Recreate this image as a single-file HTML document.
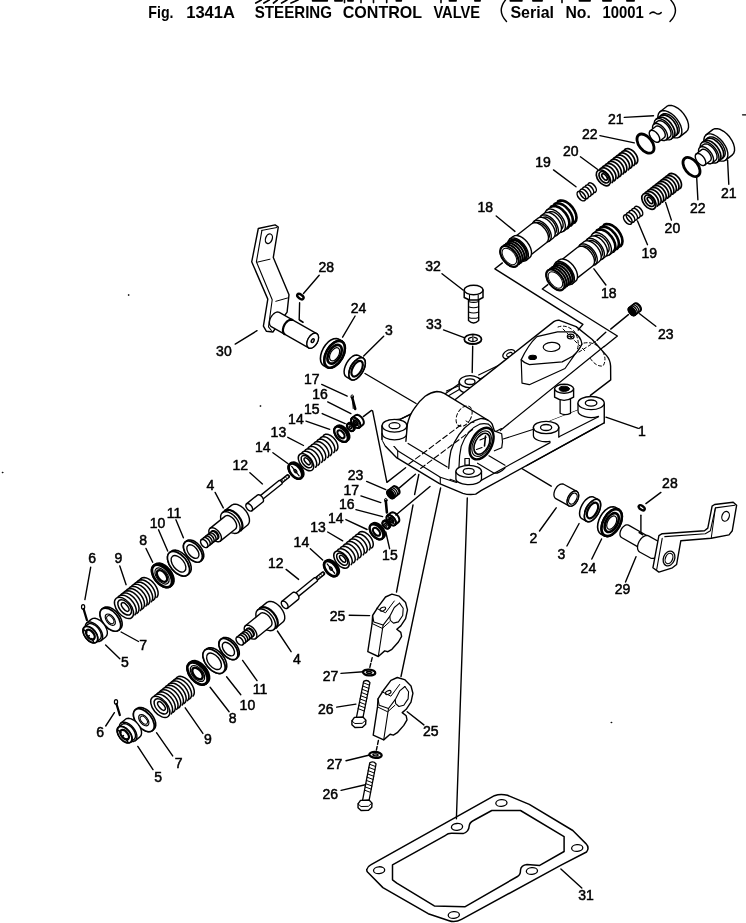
<!DOCTYPE html>
<html><head><meta charset="utf-8"><title>Fig. 1341A STEERING CONTROL VALVE</title>
<style>
html,body{margin:0;padding:0;background:#fff;}
body{width:746px;height:923px;overflow:hidden;font-family:"Liberation Sans",sans-serif;}
svg{will-change:transform;display:block;position:absolute;left:0;top:0}
svg text{font-family:"Liberation Sans",sans-serif}

</style></head><body>
<svg width="746" height="923" viewBox="0 0 746 923">
<g fill="none" stroke="#000" stroke-width="1.4" stroke-linecap="round" stroke-linejoin="round">
<path d="M650 13.6Q652.5 11 655.5 13Q658.5 15.2 661.2 12.6" stroke-width="1.5"/>
<path d="M505.5 0Q496.5 11 506.5 21.5" stroke-width="1.4"/>
<path d="M670.8 0Q680.5 11 670 21.5" stroke-width="1.4"/>
<path d="M261.3 0L255.8 3" stroke-width="1.7"/>
<path d="M269.3 0L263.9 3" stroke-width="1.7"/>
<path d="M277.3 0L273.5 3" stroke-width="1.7"/>
<path d="M287 0L281.6 3" stroke-width="1.7"/>
<path d="M298 0L291 3" stroke-width="1.7"/>
<path d="M312.7 0.8L327.2 0.8" stroke-width="1.9"/>
<path d="M335 0.8L342 0.8" stroke-width="1.9"/>
<path d="M348 0.8L353 0.8" stroke-width="1.9"/>
<path d="M396.4 0.8L401.2 0.8" stroke-width="1.9"/>
<path d="M449.5 0.8L456 0.8" stroke-width="1.9"/>
<path d="M475 0.8L480 0.8" stroke-width="1.9"/>
<path d="M510.4 0.8L521.8 0.8" stroke-width="1.9"/>
<path d="M533 0.8L542 0.8" stroke-width="1.9"/>
<path d="M579.5 0.8L590 0.8" stroke-width="1.9"/>
<path d="M603 0.8L611 0.8" stroke-width="1.9"/>
<path d="M627 0.8L634 0.8" stroke-width="1.9"/>
<path d="M344.5 0L344.5 2.6" stroke-width="1.6"/>
<path d="M361 0L361 2.6" stroke-width="1.6"/>
<path d="M373.5 0L373.5 2.6" stroke-width="1.6"/>
<path d="M386.7 0L386.7 2.6" stroke-width="1.6"/>
<path d="M441 0L441 2.6" stroke-width="1.6"/>
<path d="M562 0L562 2.6" stroke-width="1.6"/>
<path d="M624.3 117.4L653.5 115.7"/>
<path d="M599.9 135.6L634.3 142.9"/>
<path d="M580.4 156.8L597.4 169.3"/>
<path d="M553.5 169.9L576 186.8"/>
<path d="M496.2 216L514.9 231.4"/>
<path d="M727.6 160.3L728.8 184.3"/>
<path d="M696.7 177.8L697.9 199.7"/>
<path d="M637.5 221L647.5 244.7"/>
<path d="M665.6 202.4L671.4 220.1"/>
<path d="M593.9 268.8L605.9 285"/>
<path d="M321.7 384.4L347.2 396.1"/>
<path d="M327.7 401.9L350.9 413.6"/>
<path d="M322.2 413.6L345.2 423.6"/>
<path d="M306 421.1L329.7 429.3"/>
<path d="M287.8 437.3L303.5 445.5"/>
<path d="M272.9 452.7L287.8 463.5"/>
<path d="M249.9 472.7L262.4 483.9"/>
<path d="M366.6 481.4L385.8 489.6"/>
<path d="M360.9 495.9L380.8 502.6"/>
<path d="M355.9 509.6L382.6 516.6"/>
<path d="M345.9 519.6L367.1 529.5"/>
<path d="M327.7 532L342.7 540.8"/>
<path d="M310.3 548.7L322.7 560"/>
<path d="M385.8 532L389.6 548.7"/>
<path d="M286.1 569.4L298.6 579.4"/>
<path d="M215.1 492.4L223.3 507.9"/>
<path d="M175.9 519.8L183.4 537.8"/>
<path d="M158.5 529.8L167.7 551"/>
<path d="M146 548.5L152.7 562.2"/>
<path d="M119.8 566L126.1 584.7"/>
<path d="M90.7 567.2L84.9 599.6"/>
<path d="M121.1 632L138.5 641.5"/>
<path d="M105.6 645L119.8 658.7"/>
<path d="M242.6 660.4L257 680.6"/>
<path d="M226.6 676.8L240.8 694.8"/>
<path d="M210.1 687.3L229.1 711.7"/>
<path d="M185.2 707.8L202.9 733.4"/>
<path d="M156.5 732.7L172.7 755.9"/>
<path d="M137.8 746.4L153 769.6"/>
<path d="M105.7 726L114.4 712.7"/>
<path d="M349.2 615.2L369.6 615.6"/>
<path d="M277.4 631L291.1 651.7"/>
<path d="M341 673.4L363.4 671.7"/>
<path d="M336.7 707.1L355.9 704.1"/>
<path d="M346 760.7L369.6 755"/>
<path d="M341.1 790.4L365.3 784.7"/>
<path d="M407.2 711.7L423.9 724.9"/>
<path d="M556.2 507.8L539.5 531"/>
<path d="M579.1 523.5L566.9 546"/>
<path d="M601.6 539L591.8 559"/>
<path d="M636 556.7L625.5 582.1"/>
<path d="M660.9 492.4L645.9 503.6"/>
<path d="M560.9 868.9L581.8 888"/>
<path d="M319.2 275.3L303.5 293.5"/>
<path d="M355.1 316L342.6 337.2"/>
<path d="M605.9 417.2L638.3 428.4"/>
<path d="M639.6 313.7L655.8 326.2"/>
<path d="M443.5 329.9L463.5 337.4"/>
<path d="M383.7 336.2L363.7 356.1"/>
<path d="M442 273.7L463 290"/>
<path d="M235.2 344.1L257 330.7"/>
<path d="M686.41 131.67L687.87 129.84L688.56 127.27L688.43 124.15L687.5 120.67L685.81 117.09L683.5 113.64L680.71 110.57L677.64 108.07L674.5 106.32L671.5 105.43L668.84 105.48L666.71 106.45L660.02 111.69L658.56 113.52L657.87 116.08L658 119.21L658.94 122.68L660.62 126.26L662.93 129.71L665.72 132.79L668.79 135.29L671.93 137.04L674.93 137.92L677.59 137.88L679.72 136.9Z" fill="#fff"/>
<path d="M660.02 111.69L662.15 110.71L664.8 110.67L667.8 111.55L670.95 113.3L674.01 115.8L676.8 118.88L679.11 122.32L680.8 125.91L681.74 129.38L681.86 132.5L681.18 135.07L679.72 136.9"/>
<path d="M677.56 134.14L678.7 132.71L679.24 130.71L679.14 128.27L678.41 125.55L677.09 122.76L675.28 120.06L673.11 117.66L670.71 115.7L668.26 114.34L665.91 113.65L663.83 113.68L662.17 114.44L655.87 119.37L654.73 120.8L654.19 122.81L654.29 125.25L655.02 127.96L656.34 130.76L658.14 133.45L660.32 135.86L662.72 137.81L665.17 139.18L667.52 139.87L669.59 139.83L671.26 139.07Z" fill="#fff"/>
<path d="M655.87 119.37L657.53 118.61L659.61 118.57L661.95 119.26L664.41 120.63L666.8 122.58L668.98 124.99L670.79 127.68L672.1 130.48L672.83 133.19L672.94 135.63L672.4 137.64L671.26 139.07"/>
<path d="M669.72 137.1L670.63 135.96L671.06 134.35L670.98 132.4L670.39 130.23L669.34 127.99L667.9 125.83L666.16 123.91L664.24 122.35L662.27 121.25L660.4 120.7L658.74 120.73L657.41 121.34L653.86 124.11L652.95 125.26L652.52 126.86L652.6 128.81L653.18 130.98L654.24 133.22L655.68 135.38L657.42 137.3L659.34 138.86L661.3 139.96L663.18 140.51L664.84 140.48L666.17 139.87Z" fill="#fff"/>
<path d="M653.86 124.11L655.19 123.5L656.85 123.47L658.73 124.02L660.69 125.12L662.61 126.68L664.35 128.6L665.8 130.76L666.85 133L667.43 135.17L667.51 137.12L667.08 138.73L666.17 139.87"/>
<path d="M664.33 137.51L664.96 136.71L665.27 135.58L665.21 134.21L664.8 132.7L664.06 131.13L663.05 129.62L661.83 128.27L660.49 127.18L659.11 126.41L657.8 126.03L656.64 126.05L655.71 126.47L650.19 130.78L649.55 131.59L649.25 132.71L649.31 134.08L649.72 135.59L650.45 137.16L651.47 138.67L652.68 140.02L654.03 141.11L655.4 141.88L656.72 142.26L657.88 142.24L658.81 141.82Z" fill="#fff"/>
<path d="M650.19 130.78L651.12 130.36L652.28 130.34L653.6 130.72L654.97 131.49L656.32 132.58L657.53 133.93L658.55 135.44L659.28 137.01L659.69 138.52L659.75 139.89L659.45 141.01L658.81 141.82"/>
<path d="M660.79 115.53L662.86 114.83L665.44 115.12L668.28 116.39L671.13 118.51L673.71 121.29L675.78 124.47L677.15 127.75L677.7 130.81L677.36 133.39L676.17 135.22" stroke-width="1.7"/>
<path d="M658.03 117.69L660.1 116.98L662.68 117.28L665.52 118.54L668.37 120.67L670.95 123.45L673.02 126.62L674.4 129.9L674.94 132.97L674.6 135.54L673.41 137.38" stroke-width="1.7"/>
<path d="M732.41 154.87L733.87 153.04L734.56 150.47L734.43 147.35L733.5 143.87L731.81 140.29L729.5 136.84L726.71 133.77L723.64 131.27L720.5 129.52L717.5 128.63L714.84 128.68L712.71 129.65L706.02 134.89L704.56 136.72L703.87 139.28L704 142.41L704.94 145.88L706.62 149.46L708.93 152.91L711.72 155.99L714.79 158.49L717.93 160.24L720.93 161.12L723.59 161.08L725.72 160.1Z" fill="#fff"/>
<path d="M706.02 134.89L708.15 133.91L710.8 133.87L713.8 134.75L716.95 136.5L720.01 139L722.8 142.08L725.11 145.52L726.8 149.11L727.74 152.58L727.86 155.7L727.18 158.27L725.72 160.1"/>
<path d="M723.56 157.34L724.7 155.91L725.24 153.91L725.14 151.47L724.41 148.75L723.09 145.96L721.28 143.26L719.11 140.86L716.71 138.9L714.26 137.54L711.91 136.85L709.83 136.88L708.17 137.64L701.87 142.57L700.73 144L700.19 146.01L700.29 148.45L701.02 151.16L702.34 153.96L704.14 156.65L706.32 159.06L708.72 161.01L711.17 162.38L713.52 163.07L715.59 163.03L717.26 162.27Z" fill="#fff"/>
<path d="M701.87 142.57L703.53 141.81L705.61 141.77L707.95 142.46L710.41 143.83L712.8 145.78L714.98 148.19L716.79 150.88L718.1 153.68L718.83 156.39L718.94 158.83L718.4 160.84L717.26 162.27"/>
<path d="M715.72 160.3L716.63 159.16L717.06 157.55L716.98 155.6L716.39 153.43L715.34 151.19L713.9 149.03L712.16 147.11L710.24 145.55L708.27 144.45L706.4 143.9L704.74 143.93L703.41 144.54L699.86 147.31L698.95 148.46L698.52 150.06L698.6 152.01L699.18 154.18L700.24 156.42L701.68 158.58L703.42 160.5L705.34 162.06L707.3 163.16L709.18 163.71L710.84 163.68L712.17 163.07Z" fill="#fff"/>
<path d="M699.86 147.31L701.19 146.7L702.85 146.67L704.73 147.22L706.69 148.32L708.61 149.88L710.35 151.8L711.8 153.96L712.85 156.2L713.43 158.37L713.51 160.32L713.08 161.93L712.17 163.07"/>
<path d="M710.33 160.71L710.96 159.91L711.27 158.78L711.21 157.41L710.8 155.9L710.06 154.33L709.05 152.82L707.83 151.47L706.49 150.38L705.11 149.61L703.8 149.23L702.64 149.25L701.71 149.67L696.19 153.98L695.55 154.79L695.25 155.91L695.31 157.28L695.72 158.79L696.45 160.36L697.47 161.87L698.68 163.22L700.03 164.31L701.4 165.08L702.72 165.46L703.88 165.44L704.81 165.02Z" fill="#fff"/>
<path d="M696.19 153.98L697.12 153.56L698.28 153.54L699.6 153.92L700.97 154.69L702.32 155.78L703.53 157.13L704.55 158.64L705.28 160.21L705.69 161.72L705.75 163.09L705.45 164.21L704.81 165.02"/>
<path d="M706.79 138.73L708.86 138.03L711.44 138.32L714.28 139.59L717.13 141.71L719.71 144.49L721.78 147.67L723.15 150.95L723.7 154.01L723.36 156.59L722.17 158.42" stroke-width="1.7"/>
<path d="M704.03 140.89L706.1 140.18L708.68 140.48L711.52 141.74L714.37 143.87L716.95 146.65L719.02 149.82L720.4 153.1L720.94 156.17L720.6 158.74L719.41 160.58" stroke-width="1.7"/>
<ellipse cx="645.5" cy="143.6" rx="6.6" ry="11" fill="none" stroke-width="2.8" transform="rotate(-38 645.5 143.6)"/>
<ellipse cx="691.5" cy="167" rx="6.6" ry="11" fill="none" stroke-width="2.8" transform="rotate(-38 691.5 167)"/>
<path d="M636.19 163.73L637.15 162.59L637.66 161.03L637.69 159.17L637.24 157.14L636.33 155.06L635.03 153.09L633.43 151.35L631.64 149.97L629.77 149.03L627.96 148.61L626.33 148.73L624.98 149.39L597.8 170.63L596.84 171.77L596.33 173.33L596.29 175.19L596.75 177.22L597.66 179.3L598.95 181.27L600.56 183.01L602.35 184.39L604.22 185.33L606.03 185.75L607.66 185.63L609 184.97Z" fill="#fff" stroke="none"/>
<path d="M624.07 150.44L624.99 149.38L626.24 148.76L627.75 148.6L629.43 148.92L631.18 149.7L632.9 150.88L634.47 152.41L635.82 154.19L636.85 156.11L637.5 158.06L637.74 159.92L637.55 161.58L636.94 162.93L635.95 163.9" stroke-width="1.7"/>
<path d="M621.36 152.57L622.23 151.54L623.41 150.92L624.84 150.72L626.43 150.96L628.11 151.63L629.77 152.68L631.33 154.07L632.69 155.72L633.79 157.53L634.56 159.4L634.97 161.23L634.97 162.92L634.59 164.38L633.84 165.52" stroke-width="1.7"/>
<path d="M618.64 154.69L619.55 153.63L620.8 153.01L622.31 152.85L624 153.17L625.75 153.94L627.46 155.13L629.04 156.66L630.38 158.44L631.41 160.36L632.06 162.31L632.3 164.17L632.11 165.82L631.5 167.18L630.51 168.15" stroke-width="1.7"/>
<path d="M615.92 156.81L616.79 155.79L617.97 155.16L619.4 154.96L621 155.21L622.67 155.87L624.33 156.93L625.89 158.32L627.26 159.97L628.36 161.78L629.13 163.65L629.53 165.48L629.54 167.17L629.15 168.63L628.4 169.77" stroke-width="1.7"/>
<path d="M613.2 158.94L614.11 157.88L615.37 157.25L616.88 157.09L618.56 157.41L620.31 158.19L622.02 159.38L623.6 160.91L624.94 162.69L625.97 164.61L626.63 166.56L626.86 168.42L626.67 170.07L626.06 171.43L625.07 172.4" stroke-width="1.7"/>
<path d="M610.48 161.06L611.35 160.04L612.53 159.41L613.96 159.21L615.56 159.45L617.23 160.12L618.9 161.18L620.45 162.57L621.82 164.21L622.92 166.02L623.69 167.9L624.09 169.73L624.1 171.42L623.72 172.88L622.96 174.02" stroke-width="1.7"/>
<path d="M607.76 163.19L608.68 162.13L609.93 161.5L611.44 161.34L613.12 161.66L614.87 162.44L616.59 163.63L618.16 165.16L619.51 166.94L620.53 168.86L621.19 170.81L621.43 172.66L621.24 174.32L620.63 175.67L619.64 176.65" stroke-width="1.7"/>
<path d="M605.04 165.31L605.91 164.29L607.1 163.66L608.53 163.46L610.12 163.7L611.8 164.37L613.46 165.43L615.02 166.82L616.38 168.46L617.48 170.27L618.25 172.14L618.65 173.98L618.66 175.67L618.28 177.13L617.52 178.27" stroke-width="1.7"/>
<path d="M602.33 167.43L603.24 166.38L604.49 165.75L606 165.59L607.68 165.91L609.43 166.69L611.15 167.88L612.73 169.41L614.07 171.19L615.1 173.11L615.75 175.05L615.99 176.91L615.8 178.57L615.19 179.92L614.2 180.89" stroke-width="1.7"/>
<path d="M599.61 169.56L600.48 168.54L601.66 167.91L603.09 167.71L604.68 167.95L606.36 168.62L608.02 169.68L609.58 171.07L610.94 172.71L612.04 174.52L612.82 176.39L613.22 178.22L613.23 179.92L612.84 181.37L612.09 182.52" stroke-width="1.7"/>
<ellipse cx="603.4" cy="177.8" rx="5.64" ry="9.1" fill="#fff" stroke-width="1.7" transform="rotate(-38 603.4 177.8)"/>
<ellipse cx="604.11" cy="177.25" rx="4.06" ry="6.55" fill="none" stroke-width="1.7" transform="rotate(-38 604.11 177.25)"/>
<ellipse cx="604.58" cy="176.88" rx="1.9" ry="3.82" fill="none" stroke-width="1.7" transform="rotate(-38 604.58 176.88)"/>
<path d="M679.96 188.59L680.92 187.44L681.43 185.89L681.46 184.03L681 181.99L680.1 179.91L678.8 177.94L677.2 176.2L675.4 174.82L673.53 173.89L671.72 173.47L670.09 173.59L668.75 174.24L643.3 194.13L642.34 195.27L641.83 196.83L641.79 198.69L642.25 200.72L643.16 202.8L644.45 204.77L646.06 206.51L647.85 207.89L649.72 208.83L651.53 209.25L653.16 209.13L654.5 208.47Z" fill="#fff" stroke="none"/>
<path d="M667.84 175.3L668.76 174.24L670.01 173.61L671.52 173.45L673.2 173.77L674.95 174.55L676.67 175.74L678.24 177.27L679.58 179.05L680.61 180.97L681.27 182.92L681.5 184.77L681.31 186.43L680.7 187.78L679.71 188.76" stroke-width="1.7"/>
<path d="M665.3 177.29L666.17 176.26L667.35 175.63L668.78 175.44L670.37 175.68L672.05 176.35L673.71 177.4L675.27 178.79L676.63 180.44L677.73 182.25L678.5 184.12L678.91 185.95L678.91 187.64L678.53 189.1L677.78 190.24" stroke-width="1.7"/>
<path d="M662.75 179.27L663.67 178.22L664.92 177.59L666.43 177.43L668.11 177.75L669.86 178.53L671.57 179.72L673.15 181.25L674.49 183.03L675.52 184.95L676.18 186.89L676.41 188.75L676.22 190.41L675.61 191.76L674.62 192.73" stroke-width="1.7"/>
<path d="M660.21 181.26L661.08 180.24L662.26 179.61L663.69 179.41L665.28 179.65L666.96 180.32L668.62 181.38L670.18 182.77L671.54 184.42L672.64 186.22L673.41 188.1L673.81 189.93L673.82 191.62L673.44 193.08L672.69 194.22" stroke-width="1.7"/>
<path d="M657.66 183.25L658.57 182.19L659.83 181.57L661.34 181.41L663.02 181.73L664.77 182.5L666.48 183.69L668.06 185.22L669.4 187L670.43 188.92L671.08 190.87L671.32 192.73L671.13 194.38L670.52 195.74L669.53 196.71" stroke-width="1.7"/>
<path d="M655.11 185.24L655.99 184.22L657.17 183.59L658.6 183.39L660.19 183.63L661.87 184.3L663.53 185.36L665.09 186.75L666.45 188.39L667.55 190.2L668.32 192.07L668.72 193.91L668.73 195.6L668.35 197.06L667.6 198.2" stroke-width="1.7"/>
<path d="M652.57 187.23L653.48 186.17L654.73 185.54L656.25 185.38L657.93 185.7L659.68 186.48L661.39 187.67L662.97 189.2L664.31 190.98L665.34 192.9L665.99 194.85L666.23 196.71L666.04 198.36L665.43 199.72L664.44 200.69" stroke-width="1.7"/>
<path d="M650.02 189.22L650.89 188.19L652.08 187.57L653.51 187.37L655.1 187.61L656.78 188.28L658.44 189.33L660 190.72L661.36 192.37L662.46 194.18L663.23 196.05L663.63 197.88L663.64 199.57L663.26 201.03L662.5 202.18" stroke-width="1.7"/>
<path d="M647.48 191.21L648.39 190.15L649.64 189.52L651.16 189.36L652.84 189.68L654.59 190.46L656.3 191.65L657.88 193.18L659.22 194.96L660.25 196.88L660.9 198.83L661.14 200.68L660.95 202.34L660.34 203.69L659.35 204.67" stroke-width="1.7"/>
<path d="M644.93 193.19L645.8 192.17L646.99 191.54L648.42 191.34L650.01 191.59L651.69 192.25L653.35 193.31L654.91 194.7L656.27 196.35L657.37 198.15L658.14 200.03L658.54 201.86L658.55 203.55L658.17 205.01L657.41 206.15" stroke-width="1.7"/>
<ellipse cx="648.9" cy="201.3" rx="5.64" ry="9.1" fill="#fff" stroke-width="1.7" transform="rotate(-38 648.9 201.3)"/>
<ellipse cx="649.61" cy="200.75" rx="4.06" ry="6.55" fill="none" stroke-width="1.7" transform="rotate(-38 649.61 200.75)"/>
<ellipse cx="650.08" cy="200.38" rx="1.9" ry="3.82" fill="none" stroke-width="1.7" transform="rotate(-38 650.08 200.38)"/>
<ellipse cx="592.04" cy="187.69" rx="3.25" ry="5.6" fill="#fff" stroke-width="1.5" transform="rotate(-38 592.04 187.69)"/>
<ellipse cx="589.38" cy="189.77" rx="3.25" ry="5.6" fill="#fff" stroke-width="1.5" transform="rotate(-38 589.38 189.77)"/>
<ellipse cx="586.72" cy="191.84" rx="3.25" ry="5.6" fill="#fff" stroke-width="1.5" transform="rotate(-38 586.72 191.84)"/>
<ellipse cx="584.06" cy="193.92" rx="3.25" ry="5.6" fill="#fff" stroke-width="1.5" transform="rotate(-38 584.06 193.92)"/>
<ellipse cx="581.4" cy="196" rx="3.25" ry="5.6" fill="none" stroke-width="1.5" transform="rotate(-38 581.4 196)"/>
<ellipse cx="638.44" cy="211.19" rx="3.25" ry="5.6" fill="#fff" stroke-width="1.5" transform="rotate(-38 638.44 211.19)"/>
<ellipse cx="635.78" cy="213.27" rx="3.25" ry="5.6" fill="#fff" stroke-width="1.5" transform="rotate(-38 635.78 213.27)"/>
<ellipse cx="633.12" cy="215.34" rx="3.25" ry="5.6" fill="#fff" stroke-width="1.5" transform="rotate(-38 633.12 215.34)"/>
<ellipse cx="630.46" cy="217.42" rx="3.25" ry="5.6" fill="#fff" stroke-width="1.5" transform="rotate(-38 630.46 217.42)"/>
<ellipse cx="627.8" cy="219.5" rx="3.25" ry="5.6" fill="none" stroke-width="1.5" transform="rotate(-38 627.8 219.5)"/>
<path d="M574.45 222.71L575.76 221.1L576.42 218.87L576.38 216.19L575.64 213.22L574.25 210.17L572.31 207.25L569.95 204.66L567.32 202.58L564.62 201.14L562.02 200.45L559.71 200.55L557.83 201.43L546.79 210.05L545.48 211.66L544.82 213.89L544.86 216.58L545.61 219.55L546.99 222.59L548.93 225.51L551.3 228.1L553.92 230.19L556.62 231.62L559.22 232.31L561.54 232.21L563.42 231.33Z" fill="#fff"/>
<path d="M546.79 210.05L548.67 209.17L550.99 209.07L553.59 209.76L556.29 211.2L558.91 213.28L561.27 215.87L563.22 218.79L564.6 221.84L565.34 224.81L565.39 227.49L564.73 229.72L563.42 231.33"/>
<path d="M561.57 228.97L562.59 227.71L563.1 225.98L563.07 223.89L562.49 221.58L561.41 219.21L559.9 216.94L558.07 214.93L556.03 213.31L553.93 212.19L551.91 211.65L550.1 211.73L548.64 212.42L545.49 214.88L544.47 216.13L543.95 217.86L543.99 219.95L544.56 222.26L545.64 224.63L547.15 226.9L548.99 228.92L551.03 230.54L553.13 231.66L555.15 232.19L556.95 232.12L558.42 231.43Z" fill="#fff"/>
<path d="M545.49 214.88L546.95 214.19L548.75 214.11L550.77 214.65L552.88 215.77L554.91 217.39L556.75 219.4L558.26 221.67L559.34 224.04L559.92 226.35L559.95 228.45L559.44 230.18L558.42 231.43"/>
<path d="M559.65 233L560.86 231.51L561.47 229.45L561.43 226.96L560.75 224.21L559.46 221.39L557.67 218.69L555.48 216.29L553.05 214.36L550.55 213.03L548.14 212.39L546 212.48L544.26 213.3L541.1 215.77L539.89 217.26L539.28 219.32L539.32 221.81L540 224.56L541.29 227.38L543.09 230.08L545.27 232.48L547.7 234.41L550.2 235.74L552.61 236.38L554.76 236.29L556.5 235.47Z" fill="#fff"/>
<path d="M541.1 215.77L542.85 214.95L544.99 214.85L547.4 215.5L549.9 216.83L552.33 218.76L554.51 221.15L556.31 223.85L557.6 226.68L558.28 229.43L558.32 231.92L557.71 233.98L556.5 235.47"/>
<path d="M554.96 233.5L555.93 232.3L556.42 230.66L556.39 228.66L555.84 226.46L554.81 224.21L553.37 222.05L551.62 220.13L549.68 218.58L547.68 217.52L545.75 217.01L544.04 217.08L542.64 217.74L539.49 220.2L538.52 221.39L538.03 223.04L538.06 225.03L538.61 227.23L539.64 229.49L541.08 231.65L542.83 233.57L544.77 235.11L546.77 236.18L548.7 236.69L550.41 236.62L551.81 235.96Z" fill="#fff"/>
<path d="M539.49 220.2L540.88 219.54L542.6 219.47L544.53 219.98L546.53 221.05L548.47 222.59L550.22 224.51L551.66 226.67L552.68 228.93L553.23 231.13L553.27 233.12L552.78 234.77L551.81 235.96"/>
<path d="M553.34 237.93L554.56 236.44L555.17 234.38L555.13 231.89L554.44 229.14L553.16 226.32L551.36 223.62L549.18 221.22L546.75 219.29L544.25 217.96L541.84 217.32L539.69 217.41L537.95 218.23L534.01 221.31L532.8 222.8L532.19 224.86L532.23 227.35L532.91 230.1L534.2 232.92L536 235.62L538.18 238.02L540.61 239.95L543.11 241.28L545.52 241.92L547.66 241.83L549.4 241.01Z" fill="#fff"/>
<path d="M534.01 221.31L535.75 220.49L537.9 220.4L540.31 221.04L542.81 222.37L545.24 224.3L547.42 226.69L549.22 229.4L550.5 232.22L551.19 234.97L551.23 237.46L550.62 239.52L549.4 241.01"/>
<path d="M547.87 239.04L548.84 237.85L549.33 236.2L549.29 234.2L548.74 232.01L547.72 229.75L546.28 227.59L544.53 225.67L542.59 224.13L540.59 223.06L538.66 222.55L536.94 222.62L535.55 223.28L533.19 225.12L532.21 226.32L531.73 227.97L531.76 229.96L532.31 232.16L533.34 234.41L534.77 236.58L536.52 238.49L538.46 240.04L540.47 241.1L542.39 241.61L544.11 241.54L545.5 240.88Z" fill="#fff"/>
<path d="M533.19 225.12L534.58 224.47L536.3 224.4L538.22 224.91L540.22 225.97L542.17 227.52L543.91 229.43L545.35 231.6L546.38 233.85L546.93 236.05L546.96 238.04L546.47 239.69L545.5 240.88"/>
<path d="M546.73 242.46L547.9 241.03L548.48 239.05L548.45 236.66L547.79 234.02L546.55 231.31L544.83 228.72L542.73 226.42L540.4 224.57L538 223.29L535.69 222.67L533.63 222.76L531.96 223.55L513.83 237.71L512.66 239.14L512.08 241.12L512.12 243.51L512.78 246.15L514.01 248.86L515.74 251.45L517.83 253.75L520.16 255.6L522.57 256.88L524.88 257.5L526.94 257.41L528.61 256.62Z" fill="#fff"/>
<path d="M513.83 237.71L515.5 236.92L517.56 236.83L519.87 237.45L522.28 238.73L524.61 240.58L526.7 242.88L528.43 245.47L529.66 248.18L530.32 250.82L530.36 253.21L529.78 255.19L528.61 256.62"/>
<path d="M529.53 257.8L530.85 256.19L531.5 253.97L531.46 251.28L530.72 248.31L529.33 245.26L527.39 242.34L525.03 239.76L522.41 237.67L519.71 236.23L517.11 235.54L514.79 235.64L512.91 236.53L509.76 238.99L508.44 240.6L507.79 242.83L507.83 245.51L508.57 248.48L509.96 251.53L511.9 254.45L514.26 257.04L516.88 259.12L519.58 260.56L522.18 261.25L524.5 261.15L526.38 260.27Z" fill="#fff"/>
<path d="M509.76 238.99L511.64 238.1L513.96 238L516.55 238.7L519.26 240.13L521.88 242.22L524.24 244.81L526.18 247.72L527.57 250.77L528.31 253.74L528.35 256.43L527.69 258.66L526.38 260.27"/>
<path d="M525.46 259.08L526.62 257.65L527.21 255.67L527.17 253.28L526.51 250.64L525.28 247.94L523.55 245.34L521.45 243.04L519.12 241.19L516.72 239.91L514.41 239.3L512.35 239.38L510.68 240.17L502.01 246.94L500.84 248.38L500.26 250.35L500.3 252.74L500.96 255.38L502.19 258.09L503.92 260.69L506.01 262.99L508.34 264.84L510.75 266.12L513.06 266.73L515.12 266.64L516.79 265.86Z" fill="#fff" stroke-width="1.3"/>
<path d="M502.01 246.94L503.68 246.16L505.74 246.07L508.05 246.68L510.46 247.96L512.79 249.81L514.88 252.11L516.61 254.71L517.84 257.42L518.5 260.06L518.54 262.45L517.96 264.42L516.79 265.86" stroke-width="1.3"/>
<path d="M510.09 240.64L512.16 239.9L514.71 240.12L517.5 241.29L520.27 243.3L522.76 245.96L524.74 249.02L526.02 252.19L526.48 255.18L526.08 257.71L524.85 259.54" stroke-width="2"/>
<path d="M508.12 242.18L510.19 241.44L512.74 241.66L515.53 242.83L518.3 244.84L520.79 247.5L522.77 250.56L524.05 253.73L524.51 256.72L524.11 259.25L522.88 261.08" stroke-width="2"/>
<path d="M506.15 243.72L508.22 242.98L510.77 243.2L513.56 244.37L516.33 246.38L518.82 249.04L520.8 252.1L522.08 255.27L522.54 258.26L522.14 260.79L520.91 262.62" stroke-width="2"/>
<path d="M504.18 245.26L506.25 244.52L508.8 244.74L511.59 245.91L514.36 247.92L516.85 250.58L518.83 253.64L520.11 256.81L520.57 259.8L520.17 262.33L518.94 264.16" stroke-width="2"/>
<path d="M558.05 201.27L560.38 200.43L563.25 200.68L566.39 202L569.5 204.26L572.31 207.25L574.53 210.69L575.97 214.27L576.49 217.63L576.04 220.48L574.66 222.54" stroke-width="2.6"/>
<path d="M554.5 204.04L556.83 203.2L559.7 203.45L562.84 204.77L565.96 207.03L568.76 210.02L570.99 213.46L572.42 217.04L572.94 220.4L572.49 223.25L571.11 225.31" stroke-width="2.6"/>
<path d="M550.95 206.81L553.28 205.97L556.15 206.23L559.3 207.54L562.41 209.8L565.21 212.79L567.44 216.24L568.88 219.81L569.4 223.17L568.94 226.02L567.57 228.08" stroke-width="2.6"/>
<ellipse cx="509.4" cy="256.4" rx="6.96" ry="12" fill="#fff" stroke-width="2.2" transform="rotate(-38 509.4 256.4)"/>
<ellipse cx="509.4" cy="256.4" rx="5.51" ry="9.5" fill="#fff" stroke-width="1" transform="rotate(-38 509.4 256.4)"/>
<path d="M620.45 246.21L621.76 244.6L622.42 242.37L622.38 239.69L621.64 236.72L620.25 233.67L618.31 230.75L615.95 228.16L613.32 226.08L610.62 224.64L608.02 223.95L605.71 224.05L603.83 224.93L592.79 233.55L591.48 235.16L590.82 237.39L590.86 240.08L591.61 243.05L592.99 246.09L594.93 249.01L597.3 251.6L599.92 253.69L602.62 255.12L605.22 255.81L607.54 255.71L609.42 254.83Z" fill="#fff"/>
<path d="M592.79 233.55L594.67 232.67L596.99 232.57L599.59 233.26L602.29 234.7L604.91 236.78L607.27 239.37L609.22 242.29L610.6 245.34L611.34 248.31L611.39 250.99L610.73 253.22L609.42 254.83"/>
<path d="M607.57 252.47L608.59 251.21L609.1 249.48L609.07 247.39L608.49 245.08L607.41 242.71L605.9 240.44L604.07 238.43L602.03 236.81L599.93 235.69L597.91 235.15L596.1 235.23L594.64 235.92L591.49 238.38L590.47 239.63L589.95 241.36L589.99 243.45L590.56 245.76L591.64 248.13L593.15 250.4L594.99 252.42L597.03 254.04L599.13 255.16L601.15 255.69L602.95 255.62L604.42 254.93Z" fill="#fff"/>
<path d="M591.49 238.38L592.95 237.69L594.75 237.61L596.77 238.15L598.88 239.27L600.91 240.89L602.75 242.9L604.26 245.17L605.34 247.54L605.92 249.85L605.95 251.95L605.44 253.68L604.42 254.93"/>
<path d="M605.65 256.5L606.86 255.01L607.47 252.95L607.43 250.46L606.75 247.71L605.46 244.89L603.67 242.19L601.48 239.79L599.05 237.86L596.55 236.53L594.14 235.89L592 235.98L590.26 236.8L587.1 239.27L585.89 240.76L585.28 242.82L585.32 245.31L586 248.06L587.29 250.88L589.09 253.58L591.27 255.98L593.7 257.91L596.2 259.24L598.61 259.88L600.76 259.79L602.5 258.97Z" fill="#fff"/>
<path d="M587.1 239.27L588.85 238.45L590.99 238.35L593.4 239L595.9 240.33L598.33 242.26L600.51 244.65L602.31 247.35L603.6 250.18L604.28 252.93L604.32 255.42L603.71 257.48L602.5 258.97"/>
<path d="M600.96 257L601.93 255.8L602.42 254.16L602.39 252.16L601.84 249.96L600.81 247.71L599.37 245.55L597.62 243.63L595.68 242.08L593.68 241.02L591.75 240.51L590.04 240.58L588.64 241.24L585.49 243.7L584.52 244.89L584.03 246.54L584.06 248.53L584.61 250.73L585.64 252.99L587.08 255.15L588.83 257.07L590.77 258.61L592.77 259.68L594.7 260.19L596.41 260.12L597.81 259.46Z" fill="#fff"/>
<path d="M585.49 243.7L586.88 243.04L588.6 242.97L590.53 243.48L592.53 244.55L594.47 246.09L596.22 248.01L597.66 250.17L598.68 252.43L599.23 254.63L599.27 256.62L598.78 258.27L597.81 259.46"/>
<path d="M599.34 261.43L600.56 259.94L601.17 257.88L601.13 255.39L600.44 252.64L599.16 249.82L597.36 247.12L595.18 244.72L592.75 242.79L590.25 241.46L587.84 240.82L585.69 240.91L583.95 241.73L580.01 244.81L578.8 246.3L578.19 248.36L578.23 250.85L578.91 253.6L580.2 256.42L582 259.12L584.18 261.52L586.61 263.45L589.11 264.78L591.52 265.42L593.66 265.33L595.4 264.51Z" fill="#fff"/>
<path d="M580.01 244.81L581.75 243.99L583.9 243.9L586.31 244.54L588.81 245.87L591.24 247.8L593.42 250.19L595.22 252.9L596.5 255.72L597.19 258.47L597.23 260.96L596.62 263.02L595.4 264.51"/>
<path d="M593.87 262.54L594.84 261.35L595.33 259.7L595.29 257.7L594.74 255.51L593.72 253.25L592.28 251.09L590.53 249.17L588.59 247.63L586.59 246.56L584.66 246.05L582.94 246.12L581.55 246.78L579.19 248.62L578.21 249.82L577.73 251.47L577.76 253.46L578.31 255.66L579.34 257.91L580.77 260.08L582.52 261.99L584.46 263.54L586.47 264.6L588.39 265.11L590.11 265.04L591.5 264.38Z" fill="#fff"/>
<path d="M579.19 248.62L580.58 247.97L582.3 247.9L584.22 248.41L586.22 249.47L588.17 251.02L589.91 252.93L591.35 255.1L592.38 257.35L592.93 259.55L592.96 261.54L592.47 263.19L591.5 264.38"/>
<path d="M592.73 265.96L593.9 264.53L594.48 262.55L594.45 260.16L593.79 257.52L592.55 254.81L590.83 252.22L588.73 249.92L586.4 248.07L584 246.79L581.69 246.17L579.63 246.26L577.96 247.05L559.83 261.21L558.66 262.64L558.08 264.62L558.12 267.01L558.78 269.65L560.01 272.36L561.74 274.95L563.83 277.25L566.16 279.1L568.57 280.38L570.88 281L572.94 280.91L574.61 280.12Z" fill="#fff"/>
<path d="M559.83 261.21L561.5 260.42L563.56 260.33L565.87 260.95L568.28 262.23L570.61 264.08L572.7 266.38L574.43 268.97L575.66 271.68L576.32 274.32L576.36 276.71L575.78 278.69L574.61 280.12"/>
<path d="M575.53 281.3L576.85 279.69L577.5 277.47L577.46 274.78L576.72 271.81L575.33 268.76L573.39 265.84L571.03 263.26L568.41 261.17L565.71 259.73L563.11 259.04L560.79 259.14L558.91 260.03L555.76 262.49L554.44 264.1L553.79 266.33L553.83 269.01L554.57 271.98L555.96 275.03L557.9 277.95L560.26 280.54L562.88 282.62L565.58 284.06L568.18 284.75L570.5 284.65L572.38 283.77Z" fill="#fff"/>
<path d="M555.76 262.49L557.64 261.6L559.96 261.5L562.55 262.2L565.26 263.63L567.88 265.72L570.24 268.31L572.18 271.22L573.57 274.27L574.31 277.24L574.35 279.93L573.69 282.16L572.38 283.77"/>
<path d="M571.46 282.58L572.62 281.15L573.21 279.17L573.17 276.78L572.51 274.14L571.28 271.44L569.55 268.84L567.45 266.54L565.12 264.69L562.72 263.41L560.41 262.8L558.35 262.88L556.68 263.67L548.01 270.44L546.84 271.88L546.26 273.85L546.3 276.24L546.96 278.88L548.19 281.59L549.92 284.19L552.01 286.49L554.34 288.34L556.75 289.62L559.06 290.23L561.12 290.14L562.79 289.36Z" fill="#fff" stroke-width="1.3"/>
<path d="M548.01 270.44L549.68 269.66L551.74 269.57L554.05 270.18L556.46 271.46L558.79 273.31L560.88 275.61L562.61 278.21L563.84 280.92L564.5 283.56L564.54 285.95L563.96 287.92L562.79 289.36" stroke-width="1.3"/>
<path d="M556.09 264.14L558.16 263.4L560.71 263.62L563.5 264.79L566.27 266.8L568.76 269.46L570.74 272.52L572.02 275.69L572.48 278.68L572.08 281.21L570.85 283.04" stroke-width="2"/>
<path d="M554.12 265.68L556.19 264.94L558.74 265.16L561.53 266.33L564.3 268.34L566.79 271L568.77 274.06L570.05 277.23L570.51 280.22L570.11 282.75L568.88 284.58" stroke-width="2"/>
<path d="M552.15 267.22L554.22 266.48L556.77 266.7L559.56 267.87L562.33 269.88L564.82 272.54L566.8 275.6L568.08 278.77L568.54 281.76L568.14 284.29L566.91 286.12" stroke-width="2"/>
<path d="M550.18 268.76L552.25 268.02L554.8 268.24L557.59 269.41L560.36 271.42L562.85 274.08L564.83 277.14L566.11 280.31L566.57 283.3L566.17 285.83L564.94 287.66" stroke-width="2"/>
<path d="M604.05 224.77L606.38 223.93L609.25 224.18L612.39 225.5L615.5 227.76L618.31 230.75L620.53 234.19L621.97 237.77L622.49 241.13L622.04 243.98L620.66 246.04" stroke-width="2.6"/>
<path d="M600.5 227.54L602.83 226.7L605.7 226.95L608.84 228.27L611.96 230.53L614.76 233.52L616.99 236.96L618.42 240.54L618.94 243.9L618.49 246.75L617.11 248.81" stroke-width="2.6"/>
<path d="M596.95 230.31L599.28 229.47L602.15 229.73L605.3 231.04L608.41 233.3L611.21 236.29L613.44 239.74L614.88 243.31L615.4 246.67L614.94 249.52L613.57 251.58" stroke-width="2.6"/>
<ellipse cx="555.4" cy="279.9" rx="6.96" ry="12" fill="#fff" stroke-width="2.2" transform="rotate(-38 555.4 279.9)"/>
<ellipse cx="555.4" cy="279.9" rx="5.51" ry="9.5" fill="#fff" stroke-width="1" transform="rotate(-38 555.4 279.9)"/>
<path d="M362.96 424.67L363.54 423.95L363.82 422.95L363.79 421.76L363.44 420.44L362.81 419.1L361.93 417.81L360.86 416.67L359.69 415.76L358.48 415.14L357.32 414.84L356.29 414.9L355.46 415.3L351.95 418.12L351.37 418.84L351.09 419.83L351.13 421.03L351.47 422.34L352.11 423.69L352.98 424.98L354.05 426.11L355.22 427.03L356.43 427.65L357.59 427.94L358.62 427.89L359.45 427.48Z" fill="#fff" stroke-width="2"/>
<path d="M351.95 418.12L352.78 417.71L353.81 417.66L354.97 417.95L356.18 418.57L357.35 419.49L358.42 420.62L359.29 421.91L359.93 423.26L360.27 424.57L360.31 425.77L360.03 426.76L359.45 427.48" stroke-width="2"/>
<ellipse cx="355.7" cy="422.8" rx="3.48" ry="6" fill="#fff" stroke-width="2" transform="rotate(-38.7 355.7 422.8)"/>
<ellipse cx="355.7" cy="422.8" rx="1.51" ry="2.6" fill="#fff" stroke-width="2.2" transform="rotate(-38.7 355.7 422.8)"/>
<path d="M352.57 418.9L358.83 426.7" stroke-width="1.3"/>
<path d="M354.2 429.64L354.6 429.13L354.8 428.44L354.77 427.6L354.53 426.68L354.09 425.74L353.47 424.84L352.73 424.04L351.9 423.4L351.06 422.97L350.25 422.76L349.53 422.8L348.94 423.08L347.77 424.02L347.37 424.53L347.18 425.22L347.2 426.06L347.44 426.98L347.88 427.92L348.5 428.82L349.24 429.62L350.07 430.26L350.91 430.69L351.72 430.9L352.44 430.86L353.03 430.58Z" fill="#fff" stroke-width="2.2"/>
<path d="M347.77 424.02L348.36 423.74L349.08 423.7L349.89 423.91L350.73 424.34L351.56 424.98L352.3 425.78L352.92 426.68L353.36 427.62L353.6 428.54L353.62 429.38L353.43 430.07L353.03 430.58" stroke-width="2.2"/>
<ellipse cx="350.4" cy="427.3" rx="2.44" ry="4.2" fill="#fff" stroke-width="2.2" transform="rotate(-38.7 350.4 427.3)"/>
<ellipse cx="350.4" cy="427.3" rx="0.93" ry="1.6" fill="#fff" transform="rotate(-38.7 350.4 427.3)"/>
<path d="M348.06 439.92L348.91 438.86L349.32 437.4L349.27 435.65L348.76 433.72L347.83 431.74L346.54 429.86L344.98 428.19L343.26 426.85L341.49 425.94L339.79 425.51L338.28 425.59L337.06 426.18L335.5 427.43L334.65 428.49L334.24 429.95L334.29 431.7L334.8 433.63L335.73 435.6L337.02 437.49L338.58 439.16L340.3 440.5L342.07 441.41L343.77 441.84L345.28 441.76L346.5 441.17Z" fill="#fff" stroke-width="2.3"/>
<path d="M335.5 427.43L336.72 426.84L338.23 426.76L339.93 427.19L341.7 428.1L343.42 429.44L344.98 431.11L346.27 433L347.2 434.97L347.71 436.9L347.76 438.65L347.35 440.11L346.5 441.17" stroke-width="2.3"/>
<ellipse cx="341" cy="434.3" rx="5.1" ry="8.8" fill="#fff" stroke-width="2.3" transform="rotate(-38.7 341 434.3)"/>
<ellipse cx="341" cy="434.3" rx="2.67" ry="4.6" fill="#fff" stroke-width="2.2" transform="rotate(-38.7 341 434.3)"/>
<path d="M336.45 450.62L337.4 449.42L337.87 447.76L337.82 445.77L337.24 443.58L336.18 441.33L334.72 439.19L332.95 437.29L330.99 435.77L328.97 434.73L327.04 434.25L325.33 434.34L323.94 435.01L299.75 454.4L298.79 455.6L298.32 457.25L298.38 459.25L298.95 461.44L300.01 463.68L301.47 465.83L303.25 467.72L305.21 469.24L307.22 470.28L309.15 470.77L310.87 470.68L312.25 470Z" fill="#fff" stroke="none"/>
<path d="M323.03 436.12L323.95 435.01L325.24 434.36L326.82 434.23L328.61 434.6L330.5 435.47L332.36 436.79L334.1 438.46L335.6 440.39L336.78 442.48L337.56 444.58L337.9 446.57L337.78 448.34L337.2 449.78L336.2 450.8" stroke-width="1.5"/>
<path d="M320.01 438.55L320.88 437.47L322.1 436.82L323.59 436.64L325.29 436.93L327.09 437.68L328.89 438.85L330.6 440.38L332.12 442.17L333.37 444.13L334.27 446.15L334.78 448.12L334.87 449.94L334.53 451.49L333.79 452.7" stroke-width="1.5"/>
<path d="M316.98 440.97L317.9 439.85L319.19 439.21L320.78 439.07L322.57 439.45L324.45 440.32L326.32 441.63L328.05 443.31L329.55 445.24L330.73 447.32L331.51 449.42L331.85 451.42L331.73 453.19L331.15 454.63L330.15 455.65" stroke-width="1.5"/>
<path d="M313.96 443.39L314.83 442.31L316.05 441.67L317.55 441.48L319.24 441.78L321.04 442.53L322.84 443.7L324.55 445.22L326.07 447.01L327.32 448.97L328.22 451L328.73 452.97L328.82 454.78L328.49 456.34L327.74 457.54" stroke-width="1.5"/>
<path d="M310.93 445.81L311.85 444.7L313.14 444.05L314.73 443.92L316.52 444.3L318.4 445.17L320.27 446.48L322 448.15L323.5 450.09L324.68 452.17L325.46 454.27L325.8 456.26L325.68 458.03L325.1 459.47L324.1 460.49" stroke-width="1.5"/>
<path d="M307.91 448.24L308.78 447.16L310 446.51L311.5 446.33L313.19 446.62L314.99 447.37L316.8 448.54L318.5 450.07L320.02 451.86L321.27 453.82L322.17 455.84L322.68 457.82L322.77 459.63L322.44 461.18L321.7 462.39" stroke-width="1.5"/>
<path d="M304.89 450.66L305.8 449.55L307.09 448.9L308.68 448.76L310.47 449.14L312.35 450.01L314.22 451.32L315.95 453L317.46 454.93L318.63 457.01L319.41 459.11L319.75 461.11L319.63 462.88L319.05 464.32L318.06 465.34" stroke-width="1.5"/>
<path d="M301.86 453.08L302.73 452L303.95 451.36L305.45 451.17L307.14 451.47L308.94 452.22L310.75 453.39L312.46 454.91L313.98 456.7L315.22 458.67L316.12 460.69L316.64 462.66L316.73 464.47L316.39 466.03L315.65 467.24" stroke-width="1.5"/>
<ellipse cx="306" cy="462.2" rx="5.8" ry="10" fill="#fff" stroke-width="1.5" transform="rotate(-38.7 306 462.2)"/>
<ellipse cx="306.7" cy="461.64" rx="4.18" ry="7.2" fill="none" stroke-width="1.5" transform="rotate(-38.7 306.7 461.64)"/>
<ellipse cx="307.17" cy="461.26" rx="1.95" ry="4.2" fill="none" stroke-width="1.5" transform="rotate(-38.7 307.17 461.26)"/>
<path d="M302.07 477.03L302.92 475.97L303.33 474.51L303.28 472.76L302.77 470.83L301.84 468.86L300.55 466.97L298.99 465.3L297.27 463.96L295.5 463.05L293.8 462.62L292.29 462.7L291.07 463.29L289.9 464.23L289.05 465.29L288.64 466.75L288.69 468.5L289.2 470.43L290.13 472.4L291.42 474.29L292.98 475.96L294.7 477.3L296.47 478.21L298.17 478.64L299.68 478.56L300.9 477.97Z" fill="#fff" stroke-width="2.6"/>
<path d="M289.9 464.23L291.12 463.64L292.63 463.56L294.33 463.99L296.1 464.9L297.82 466.24L299.38 467.91L300.67 469.8L301.6 471.77L302.11 473.7L302.16 475.45L301.75 476.91L300.9 477.97" stroke-width="2.6"/>
<ellipse cx="295.4" cy="471.1" rx="5.1" ry="8.8" fill="#fff" stroke-width="2.6" transform="rotate(-38.7 295.4 471.1)"/>
<ellipse cx="295.4" cy="471.1" rx="1.16" ry="2" fill="#fff" stroke-width="1.2" transform="rotate(-38.7 295.4 471.1)"/>
<path d="M291.65 466.42L299.15 475.78" stroke-width="1.2"/>
<path d="M289.16 477.21L289.3 477.03L289.37 476.78L289.36 476.48L289.28 476.15L289.12 475.82L288.9 475.49L288.63 475.21L288.34 474.98L288.04 474.83L287.75 474.75L287.49 474.77L287.28 474.87L279.48 481.12L279.34 481.3L279.27 481.55L279.27 481.85L279.36 482.18L279.52 482.51L279.74 482.83L280 483.12L280.3 483.35L280.6 483.5L280.89 483.58L281.15 483.56L281.36 483.46Z" fill="#fff"/>
<path d="M279.48 481.12L279.69 481.02L279.94 481L280.23 481.08L280.54 481.23L280.83 481.46L281.1 481.75L281.32 482.07L281.47 482.4L281.56 482.73L281.57 483.03L281.5 483.28L281.36 483.46"/>
<path d="M281.79 484.01L282 483.74L282.11 483.38L282.09 482.94L281.97 482.46L281.74 481.96L281.41 481.49L281.02 481.08L280.59 480.74L280.15 480.51L279.72 480.4L279.35 480.43L279.04 480.57L258.75 496.83L258.54 497.09L258.44 497.46L258.45 497.9L258.58 498.38L258.81 498.87L259.13 499.34L259.52 499.76L259.95 500.1L260.39 500.32L260.82 500.43L261.2 500.41L261.5 500.26Z" fill="#fff"/>
<path d="M258.75 496.83L259.06 496.68L259.43 496.66L259.86 496.77L260.3 497L260.73 497.33L261.12 497.75L261.44 498.22L261.68 498.71L261.8 499.2L261.82 499.63L261.71 500L261.5 500.26"/>
<path d="M262.88 501.98L263.3 501.45L263.5 500.72L263.48 499.85L263.23 498.88L262.76 497.89L262.12 496.95L261.34 496.12L260.48 495.45L259.59 494.99L258.74 494.77L257.98 494.82L257.37 495.11L246.45 503.87L246.03 504.4L245.82 505.12L245.85 506L246.1 506.96L246.56 507.95L247.21 508.9L247.99 509.73L248.85 510.4L249.74 510.86L250.59 511.07L251.34 511.03L251.95 510.73Z" fill="#fff"/>
<path d="M246.45 503.87L247.06 503.57L247.81 503.53L248.66 503.74L249.55 504.2L250.41 504.87L251.19 505.7L251.84 506.65L252.3 507.64L252.55 508.6L252.58 509.48L252.37 510.2L251.95 510.73"/>
<path d="M286.53 475.47L286.79 475.38L287.1 475.4L287.46 475.54L287.8 475.79L288.12 476.12L288.37 476.5L288.54 476.89L288.6 477.27L288.55 477.58L288.4 477.81" stroke-width="1"/>
<path d="M284.71 476.93L284.96 476.84L285.28 476.86L285.63 477L285.98 477.25L286.3 477.58L286.55 477.96L286.72 478.35L286.78 478.73L286.73 479.04L286.58 479.27" stroke-width="1"/>
<path d="M282.89 478.39L283.14 478.3L283.46 478.32L283.81 478.46L284.16 478.71L284.48 479.04L284.73 479.42L284.89 479.81L284.96 480.18L284.91 480.5L284.76 480.73" stroke-width="1"/>
<path d="M281.06 479.85L281.32 479.75L281.64 479.78L281.99 479.92L282.34 480.17L282.66 480.5L282.91 480.88L283.07 481.27L283.14 481.64L283.09 481.96L282.94 482.19" stroke-width="1"/>
<path d="M247.65 524.96L248.87 523.43L249.46 521.33L249.39 518.8L248.66 516.02L247.32 513.17L245.46 510.45L243.21 508.04L240.72 506.11L238.16 504.79L235.71 504.17L233.53 504.29L231.77 505.14L222.4 512.64L221.19 514.17L220.59 516.27L220.66 518.8L221.4 521.59L222.74 524.44L224.6 527.16L226.85 529.57L229.34 531.5L231.89 532.82L234.35 533.44L236.53 533.32L238.29 532.47Z" fill="#fff"/>
<path d="M222.4 512.64L224.16 511.79L226.34 511.67L228.79 512.29L231.35 513.61L233.84 515.54L236.09 517.95L237.95 520.67L239.29 523.52L240.02 526.31L240.1 528.84L239.5 530.94L238.29 532.47"/>
<path d="M235.47 528.95L236.26 527.97L236.64 526.61L236.59 524.98L236.12 523.18L235.26 521.34L234.06 519.58L232.6 518.03L231 516.78L229.34 515.93L227.76 515.53L226.35 515.6L225.22 516.15L210 528.35L209.21 529.33L208.83 530.69L208.88 532.32L209.35 534.12L210.21 535.96L211.41 537.72L212.87 539.28L214.48 540.52L216.13 541.37L217.71 541.78L219.12 541.7L220.25 541.15Z" fill="#fff"/>
<path d="M210 528.35L211.13 527.8L212.54 527.72L214.13 528.12L215.78 528.97L217.38 530.22L218.84 531.77L220.04 533.53L220.9 535.37L221.38 537.17L221.42 538.8L221.04 540.16L220.25 541.15"/>
<path d="M218.13 538.49L218.59 537.91L218.81 537.12L218.78 536.16L218.51 535.11L218 534.03L217.3 533.01L216.45 532.1L215.51 531.37L214.54 530.87L213.61 530.63L212.79 530.68L212.12 531L201.2 539.75L200.74 540.33L200.51 541.13L200.54 542.08L200.82 543.13L201.32 544.21L202.03 545.24L202.88 546.15L203.82 546.88L204.79 547.38L205.71 547.61L206.54 547.57L207.2 547.25Z" fill="#fff"/>
<path d="M201.2 539.75L201.86 539.43L202.69 539.39L203.61 539.62L204.58 540.12L205.52 540.85L206.37 541.76L207.08 542.79L207.58 543.87L207.86 544.92L207.89 545.87L207.66 546.67L207.2 547.25"/>
<path d="M211.42 531.57L212.25 531.26L213.27 531.34L214.39 531.79L215.51 532.58L216.52 533.63L217.32 534.85L217.85 536.11L218.05 537.3L217.9 538.32L217.42 539.05" stroke-width="1.5"/>
<path d="M209.47 533.13L210.3 532.82L211.32 532.9L212.44 533.35L213.56 534.14L214.57 535.19L215.37 536.41L215.9 537.67L216.1 538.87L215.95 539.88L215.47 540.62" stroke-width="1.5"/>
<path d="M207.52 534.69L208.35 534.39L209.37 534.46L210.49 534.92L211.61 535.71L212.62 536.76L213.42 537.97L213.95 539.24L214.15 540.43L214 541.44L213.52 542.18" stroke-width="1.5"/>
<path d="M205.57 536.26L206.39 535.95L207.42 536.02L208.54 536.48L209.66 537.27L210.67 538.32L211.47 539.53L212 540.8L212.2 541.99L212.05 543.01L211.57 543.74" stroke-width="1.5"/>
<path d="M203.62 537.82L204.44 537.51L205.46 537.59L206.59 538.04L207.7 538.83L208.71 539.88L209.52 541.1L210.05 542.36L210.25 543.56L210.1 544.57L209.62 545.31" stroke-width="1.5"/>
<path d="M224.95 510.61L227.13 509.8L229.84 510L232.81 511.2L235.76 513.29L238.43 516.07L240.57 519.29L241.96 522.63L242.49 525.79L242.09 528.47L240.82 530.42" stroke-width="2.2"/>
<path d="M202 560.07L203.17 558.59L203.75 556.56L203.68 554.11L202.97 551.41L201.67 548.65L199.87 546.01L197.69 543.68L195.28 541.81L192.8 540.53L190.43 539.93L188.32 540.05L186.61 540.88L185.21 542L184.03 543.48L183.46 545.52L183.53 547.97L184.23 550.66L185.53 553.42L187.33 556.06L189.51 558.39L191.92 560.26L194.4 561.54L196.78 562.14L198.89 562.03L200.59 561.2Z" fill="#fff" stroke-width="1.6"/>
<path d="M185.21 542L186.91 541.17L189.02 541.06L191.4 541.66L193.88 542.94L196.29 544.81L198.47 547.14L200.27 549.78L201.57 552.54L202.27 555.23L202.34 557.68L201.77 559.72L200.59 561.2" stroke-width="1.6"/>
<ellipse cx="192.9" cy="551.6" rx="7.13" ry="12.3" fill="#fff" stroke-width="1.6" transform="rotate(-38.7 192.9 551.6)"/>
<ellipse cx="192.9" cy="551.6" rx="4.58" ry="7.9" fill="#fff" transform="rotate(-38.7 192.9 551.6)"/>
<path d="M189.16 573.58L190.53 571.86L191.2 569.5L191.12 566.65L190.29 563.51L188.78 560.3L186.69 557.24L184.16 554.53L181.35 552.35L178.47 550.87L175.71 550.17L173.26 550.3L171.28 551.26L169.56 552.64L168.19 554.36L167.52 556.73L167.6 559.58L168.42 562.71L169.93 565.92L172.03 568.99L174.56 571.7L177.36 573.87L180.25 575.36L183.01 576.06L185.46 575.92L187.44 574.96Z" fill="#fff" stroke-width="1.6"/>
<path d="M169.56 552.64L171.54 551.68L173.99 551.54L176.75 552.24L179.64 553.73L182.44 555.9L184.97 558.61L187.07 561.68L188.58 564.89L189.4 568.02L189.48 570.87L188.81 573.24L187.44 574.96" stroke-width="1.6"/>
<ellipse cx="178.5" cy="563.8" rx="8.29" ry="14.3" fill="#fff" stroke-width="1.6" transform="rotate(-38.7 178.5 563.8)"/>
<ellipse cx="178.5" cy="563.8" rx="5.57" ry="9.6" fill="#fff" transform="rotate(-38.7 178.5 563.8)"/>
<path d="M171.69 584.9L172.94 583.33L173.54 581.18L173.47 578.59L172.72 575.74L171.35 572.82L169.45 570.04L167.14 567.57L164.59 565.59L161.97 564.24L159.46 563.61L157.23 563.73L155.43 564.6L153.87 565.85L152.63 567.42L152.02 569.57L152.09 572.16L152.84 575.01L154.21 577.93L156.12 580.71L158.42 583.18L160.97 585.16L163.59 586.51L166.1 587.14L168.33 587.02L170.13 586.15Z" fill="#fff" stroke-width="2.6"/>
<path d="M153.87 565.85L155.67 564.98L157.9 564.86L160.41 565.49L163.03 566.84L165.58 568.82L167.88 571.29L169.79 574.07L171.16 576.99L171.91 579.84L171.98 582.43L171.37 584.58L170.13 586.15" stroke-width="2.6"/>
<ellipse cx="162" cy="576" rx="7.54" ry="13" fill="#fff" stroke-width="2.6" transform="rotate(-38.7 162 576)"/>
<ellipse cx="162" cy="576" rx="5.39" ry="9.3" fill="#fff" stroke-width="1.2" transform="rotate(-38.7 162 576)"/>
<ellipse cx="162" cy="576" rx="3.94" ry="6.8" fill="#fff" stroke-width="2.4" transform="rotate(-38.7 162 576)"/>
<path d="M156.34 597.88L157.53 596.39L158.1 594.34L158.03 591.87L157.32 589.15L156.01 586.37L154.2 583.71L152 581.36L149.57 579.47L147.07 578.18L144.68 577.58L142.55 577.69L140.83 578.53L116.25 598.22L115.06 599.72L114.48 601.77L114.55 604.24L115.26 606.96L116.57 609.74L118.39 612.4L120.59 614.75L123.02 616.63L125.51 617.92L127.91 618.53L130.04 618.41L131.75 617.58Z" fill="#fff" stroke="none"/>
<path d="M139.7 579.9L140.78 578.57L142.29 577.76L144.15 577.54L146.25 577.9L148.48 578.83L150.72 580.28L152.84 582.17L154.72 584.39L156.27 586.83L157.39 589.33L158.02 591.78L158.13 594.03L157.72 595.96L156.8 597.45" stroke-width="1.5"/>
<path d="M136.97 582.09L138.11 580.71L139.71 579.91L141.67 579.74L143.89 580.21L146.23 581.29L148.54 582.91L150.7 584.99L152.56 587.39L154.02 589.97L154.99 592.57L155.41 595.05L155.26 597.24L154.54 599.03L153.3 600.29" stroke-width="1.5"/>
<path d="M134.24 584.28L135.32 582.94L136.83 582.14L138.69 581.91L140.79 582.28L143.02 583.21L145.26 584.66L147.38 586.55L149.26 588.77L150.8 591.2L151.92 593.71L152.56 596.16L152.67 598.41L152.25 600.33L151.33 601.83" stroke-width="1.5"/>
<path d="M131.51 586.47L132.64 585.09L134.24 584.29L136.21 584.12L138.43 584.59L140.77 585.66L143.08 587.29L145.23 589.37L147.09 591.77L148.55 594.35L149.52 596.95L149.94 599.42L149.79 601.62L149.08 603.4L147.84 604.67" stroke-width="1.5"/>
<path d="M128.78 588.66L129.86 587.32L131.37 586.52L133.22 586.29L135.33 586.65L137.56 587.59L139.79 589.04L141.91 590.93L143.8 593.15L145.34 595.58L146.46 598.09L147.1 600.53L147.21 602.78L146.79 604.71L145.87 606.21" stroke-width="1.5"/>
<path d="M126.05 590.84L127.18 589.46L128.78 588.66L130.75 588.49L132.97 588.96L135.3 590.04L137.62 591.67L139.77 593.74L141.63 596.14L143.09 598.72L144.06 601.33L144.48 603.8L144.33 606L143.61 607.78L142.37 609.05" stroke-width="1.5"/>
<path d="M123.31 593.03L124.39 591.7L125.9 590.89L127.76 590.67L129.86 591.03L132.09 591.96L134.33 593.41L136.45 595.3L138.33 597.52L139.88 599.96L141 602.46L141.63 604.91L141.74 607.16L141.33 609.09L140.41 610.58" stroke-width="1.5"/>
<path d="M120.58 595.22L121.72 593.84L123.32 593.04L125.28 592.87L127.5 593.34L129.84 594.42L132.15 596.04L134.31 598.12L136.17 600.52L137.63 603.1L138.6 605.7L139.02 608.18L138.87 610.37L138.15 612.16L136.91 613.42" stroke-width="1.5"/>
<path d="M117.85 597.41L118.93 596.07L120.44 595.27L122.3 595.04L124.4 595.41L126.63 596.34L128.87 597.79L130.99 599.68L132.87 601.9L134.42 604.33L135.54 606.84L136.17 609.29L136.28 611.54L135.86 613.46L134.94 614.96" stroke-width="1.5"/>
<ellipse cx="124" cy="607.9" rx="7.19" ry="12.4" fill="#fff" stroke-width="1.5" transform="rotate(-38.7 124 607.9)"/>
<ellipse cx="124.7" cy="607.34" rx="5.18" ry="8.93" fill="none" stroke-width="1.5" transform="rotate(-38.7 124.7 607.34)"/>
<ellipse cx="125.17" cy="606.96" rx="2.42" ry="5.21" fill="none" stroke-width="1.5" transform="rotate(-38.7 125.17 606.96)"/>
<path d="M120.24 628.91L121.52 627.29L122.15 625.08L122.07 622.41L121.3 619.47L119.89 616.46L117.93 613.59L115.55 611.05L112.92 609.01L110.23 607.62L107.64 606.96L105.34 607.09L103.48 607.99L101.92 609.24L100.64 610.86L100.01 613.07L100.09 615.74L100.86 618.68L102.27 621.69L104.23 624.56L106.61 627.1L109.24 629.14L111.94 630.53L114.52 631.19L116.82 631.06L118.68 630.16Z" fill="#fff" stroke-width="1.6"/>
<path d="M101.92 609.24L103.78 608.34L106.08 608.21L108.66 608.87L111.36 610.26L113.99 612.3L116.37 614.84L118.33 617.71L119.74 620.72L120.51 623.66L120.59 626.33L119.96 628.54L118.68 630.16" stroke-width="1.6"/>
<ellipse cx="110.3" cy="619.7" rx="7.77" ry="13.4" fill="#fff" stroke-width="1.6" transform="rotate(-38.7 110.3 619.7)"/>
<ellipse cx="110.3" cy="619.7" rx="3.83" ry="6.6" fill="#fff" stroke-width="1.2" transform="rotate(-38.7 110.3 619.7)"/>
<ellipse cx="110.3" cy="619.7" rx="2.67" ry="4.6" fill="#fff" stroke-width="1" transform="rotate(-38.7 110.3 619.7)"/>
<path d="M105.72 636.93L106.81 635.56L107.35 633.67L107.28 631.4L106.63 628.9L105.42 626.34L103.75 623.9L101.73 621.74L99.5 620.01L97.2 618.82L95 618.26L93.05 618.37L91.47 619.14L86.78 622.89L85.69 624.26L85.16 626.15L85.22 628.42L85.88 630.92L87.08 633.48L88.75 635.92L90.77 638.08L93.01 639.82L95.3 641L97.5 641.56L99.46 641.45L101.04 640.68Z" fill="#fff"/>
<path d="M86.78 622.89L88.36 622.12L90.32 622.01L92.52 622.57L94.82 623.76L97.05 625.49L99.07 627.65L100.74 630.1L101.94 632.65L102.6 635.15L102.66 637.42L102.13 639.31L101.04 640.68"/>
<path d="M99.91 639.28L100.83 638.12L101.28 636.53L101.23 634.62L100.68 632.52L99.66 630.36L98.26 628.31L96.56 626.48L94.67 625.03L92.74 624.03L90.89 623.56L89.24 623.65L87.91 624.29L84.4 627.11L83.48 628.26L83.03 629.85L83.08 631.76L83.64 633.87L84.65 636.02L86.05 638.08L87.76 639.9L89.64 641.36L91.57 642.36L93.43 642.83L95.07 642.74L96.4 642.09Z" fill="#fff"/>
<path d="M84.4 627.11L85.73 626.46L87.37 626.37L89.23 626.84L91.16 627.84L93.04 629.3L94.75 631.12L96.15 633.18L97.16 635.33L97.72 637.44L97.77 639.35L97.32 640.94L96.4 642.09"/>
<ellipse cx="90.4" cy="634.6" rx="5.57" ry="9.6" fill="#fff" stroke-width="1.8" transform="rotate(-38.7 90.4 634.6)"/>
<ellipse cx="90.4" cy="634.6" rx="3.25" ry="5.6" fill="#fff" stroke-width="2.4" transform="rotate(-38.7 90.4 634.6)"/>
<path d="M86.72 632.51L84.39 630.17" stroke-width="1.6"/>
<path d="M89.2 635.6L88.9 635.8" stroke-width="1.6"/>
<path d="M91.68 638.69L93.41 641.43" stroke-width="1.6"/>
<ellipse cx="83.1" cy="606.9" rx="1.6" ry="2.2" stroke-width="1.2"/>
<path d="M83.6 609L86.9 620" stroke-width="2.3"/>
<path d="M398.48 522.11L399.05 521.38L399.32 520.38L399.28 519.19L398.92 517.88L398.27 516.53L397.38 515.26L396.31 514.13L395.13 513.23L393.91 512.61L392.75 512.33L391.72 512.4L390.9 512.81L387.41 515.65L386.84 516.38L386.57 517.37L386.61 518.57L386.97 519.88L387.61 521.22L388.5 522.5L389.58 523.63L390.76 524.53L391.97 525.14L393.14 525.43L394.16 525.36L394.99 524.95Z" fill="#fff" stroke-width="2"/>
<path d="M387.41 515.65L388.24 515.24L389.26 515.17L390.43 515.46L391.64 516.07L392.82 516.97L393.9 518.1L394.79 519.38L395.43 520.72L395.79 522.03L395.83 523.23L395.56 524.22L394.99 524.95" stroke-width="2"/>
<ellipse cx="391.2" cy="520.3" rx="3.48" ry="6" fill="#fff" stroke-width="2" transform="rotate(-39.2 391.2 520.3)"/>
<ellipse cx="391.2" cy="520.3" rx="1.51" ry="2.6" fill="#fff" stroke-width="2.2" transform="rotate(-39.2 391.2 520.3)"/>
<path d="M388.04 516.43L394.36 524.17" stroke-width="1.3"/>
<path d="M389.72 527.11L390.12 526.6L390.31 525.9L390.27 525.06L390.02 524.15L389.57 523.21L388.95 522.31L388.2 521.52L387.37 520.89L386.52 520.46L385.71 520.26L384.99 520.31L384.41 520.6L383.25 521.55L382.85 522.05L382.66 522.75L382.69 523.59L382.94 524.51L383.39 525.44L384.01 526.34L384.76 527.13L385.59 527.76L386.44 528.19L387.26 528.39L387.98 528.34L388.55 528.05Z" fill="#fff" stroke-width="2.2"/>
<path d="M383.25 521.55L383.82 521.26L384.54 521.21L385.36 521.41L386.21 521.84L387.04 522.47L387.79 523.26L388.41 524.16L388.86 525.09L389.11 526.01L389.14 526.85L388.95 527.55L388.55 528.05" stroke-width="2.2"/>
<ellipse cx="385.9" cy="524.8" rx="2.44" ry="4.2" fill="#fff" stroke-width="2.2" transform="rotate(-39.2 385.9 524.8)"/>
<ellipse cx="385.9" cy="524.8" rx="0.93" ry="1.6" fill="#fff" transform="rotate(-39.2 385.9 524.8)"/>
<path d="M383.61 537.36L384.45 536.29L384.84 534.83L384.78 533.08L384.26 531.15L383.31 529.19L382.01 527.31L380.43 525.65L378.69 524.33L376.91 523.43L375.21 523.02L373.7 523.11L372.49 523.72L370.94 524.98L370.1 526.05L369.71 527.51L369.77 529.26L370.29 531.18L371.24 533.15L372.54 535.03L374.12 536.68L375.86 538L377.64 538.9L379.34 539.32L380.85 539.22L382.06 538.62Z" fill="#fff" stroke-width="2.3"/>
<path d="M370.94 524.98L372.15 524.38L373.66 524.28L375.36 524.7L377.14 525.6L378.88 526.92L380.46 528.57L381.76 530.45L382.71 532.42L383.23 534.34L383.29 536.09L382.9 537.55L382.06 538.62" stroke-width="2.3"/>
<ellipse cx="376.5" cy="531.8" rx="5.1" ry="8.8" fill="#fff" stroke-width="2.3" transform="rotate(-39.2 376.5 531.8)"/>
<ellipse cx="376.5" cy="531.8" rx="2.67" ry="4.6" fill="#fff" stroke-width="2.2" transform="rotate(-39.2 376.5 531.8)"/>
<path d="M371.84 547.86L372.79 546.64L373.24 544.99L373.17 542.99L372.58 540.81L371.5 538.57L370.02 536.44L368.23 534.56L366.26 533.06L364.23 532.04L362.3 531.56L360.58 531.67L359.2 532.36L335.18 551.95L334.23 553.16L333.78 554.82L333.85 556.81L334.45 559L335.52 561.24L337.01 563.37L338.79 565.25L340.77 566.75L342.79 567.77L344.73 568.24L346.44 568.13L347.82 567.45Z" fill="#fff" stroke="none"/>
<path d="M358.3 533.47L359.21 532.35L360.49 531.7L362.08 531.55L363.87 531.91L365.76 532.76L367.64 534.06L369.39 535.72L370.91 537.64L372.1 539.71L372.9 541.8L373.26 543.79L373.15 545.56L372.59 547.01L371.6 548.04" stroke-width="1.5"/>
<path d="M355.3 535.92L356.16 534.84L357.37 534.18L358.87 533.99L360.57 534.26L362.37 535L364.19 536.15L365.91 537.66L367.44 539.44L368.71 541.39L369.63 543.41L370.16 545.37L370.26 547.19L369.94 548.74L369.21 549.96" stroke-width="1.5"/>
<path d="M352.3 538.37L353.2 537.25L354.49 536.6L356.07 536.44L357.87 536.81L359.76 537.66L361.64 538.96L363.39 540.61L364.9 542.54L366.1 544.61L366.9 546.7L367.26 548.69L367.15 550.46L366.58 551.91L365.59 552.94" stroke-width="1.5"/>
<path d="M349.29 540.82L350.16 539.74L351.37 539.08L352.86 538.88L354.56 539.16L356.37 539.9L358.18 541.05L359.9 542.56L361.44 544.34L362.7 546.29L363.62 548.3L364.15 550.27L364.26 552.08L363.93 553.64L363.2 554.85" stroke-width="1.5"/>
<path d="M346.29 543.27L347.2 542.15L348.48 541.49L350.07 541.34L351.86 541.7L353.75 542.56L355.63 543.85L357.38 545.51L358.9 547.43L360.09 549.5L360.89 551.6L361.25 553.59L361.14 555.36L360.58 556.8L359.59 557.83" stroke-width="1.5"/>
<path d="M343.29 545.72L344.15 544.64L345.36 543.98L346.86 543.78L348.56 544.06L350.36 544.8L352.18 545.95L353.9 547.46L355.43 549.24L356.7 551.19L357.62 553.2L358.14 555.17L358.25 556.98L357.93 558.54L357.2 559.75" stroke-width="1.5"/>
<path d="M340.29 548.17L341.19 547.05L342.48 546.39L344.06 546.24L345.85 546.6L347.75 547.46L349.62 548.75L351.37 550.41L352.89 552.33L354.09 554.4L354.89 556.5L355.24 558.49L355.14 560.26L354.57 561.7L353.58 562.73" stroke-width="1.5"/>
<path d="M337.28 550.62L338.14 549.53L339.36 548.88L340.85 548.68L342.55 548.96L344.36 549.69L346.17 550.85L347.89 552.36L349.43 554.13L350.69 556.09L351.61 558.1L352.14 560.07L352.24 561.88L351.92 563.44L351.19 564.65" stroke-width="1.5"/>
<ellipse cx="341.5" cy="559.7" rx="5.8" ry="10" fill="#fff" stroke-width="1.5" transform="rotate(-39.2 341.5 559.7)"/>
<ellipse cx="342.2" cy="559.13" rx="4.18" ry="7.2" fill="none" stroke-width="1.5" transform="rotate(-39.2 342.2 559.13)"/>
<ellipse cx="342.66" cy="558.75" rx="1.95" ry="4.2" fill="none" stroke-width="1.5" transform="rotate(-39.2 342.66 558.75)"/>
<path d="M337.62 574.47L338.46 573.4L338.86 571.94L338.79 570.19L338.27 568.27L337.32 566.3L336.02 564.43L334.44 562.77L332.71 561.45L330.93 560.55L329.22 560.13L327.71 560.23L326.5 560.83L325.34 561.78L324.5 562.85L324.11 564.31L324.17 566.06L324.69 567.98L325.64 569.95L326.94 571.83L328.52 573.48L330.26 574.8L332.04 575.7L333.74 576.12L335.25 576.02L336.46 575.42Z" fill="#fff" stroke-width="2.6"/>
<path d="M325.34 561.78L326.55 561.18L328.06 561.08L329.76 561.5L331.54 562.4L333.28 563.72L334.86 565.37L336.16 567.25L337.11 569.22L337.63 571.14L337.69 572.89L337.3 574.35L336.46 575.42" stroke-width="2.6"/>
<ellipse cx="330.9" cy="568.6" rx="5.1" ry="8.8" fill="#fff" stroke-width="2.6" transform="rotate(-39.2 330.9 568.6)"/>
<ellipse cx="330.9" cy="568.6" rx="1.16" ry="2" fill="#fff" stroke-width="1.2" transform="rotate(-39.2 330.9 568.6)"/>
<path d="M327.11 563.95L334.69 573.25" stroke-width="1.2"/>
<path d="M324.4 574.36L324.54 574.18L324.61 573.93L324.59 573.63L324.51 573.3L324.34 572.97L324.12 572.65L323.85 572.37L323.56 572.14L323.25 571.99L322.96 571.92L322.71 571.93L322.5 572.04L314.75 578.36L314.61 578.54L314.54 578.79L314.55 579.09L314.64 579.41L314.8 579.75L315.02 580.07L315.29 580.35L315.59 580.58L315.89 580.73L316.18 580.8L316.44 580.78L316.65 580.68Z" fill="#fff"/>
<path d="M314.75 578.36L314.96 578.25L315.21 578.24L315.5 578.31L315.81 578.46L316.1 578.69L316.37 578.97L316.59 579.29L316.76 579.62L316.84 579.95L316.86 580.25L316.79 580.5L316.65 580.68"/>
<path d="M317.09 581.22L317.3 580.96L317.4 580.59L317.38 580.15L317.25 579.67L317.01 579.18L316.69 578.71L316.29 578.3L315.86 577.97L315.41 577.74L314.99 577.64L314.61 577.66L314.31 577.81L294.16 594.25L293.95 594.51L293.85 594.88L293.87 595.32L294 595.8L294.23 596.29L294.56 596.76L294.95 597.17L295.39 597.5L295.83 597.73L296.26 597.83L296.64 597.81L296.94 597.66Z" fill="#fff"/>
<path d="M294.16 594.25L294.46 594.1L294.84 594.07L295.27 594.18L295.71 594.4L296.14 594.73L296.54 595.15L296.86 595.61L297.1 596.11L297.23 596.59L297.25 597.02L297.15 597.39L296.94 597.66"/>
<path d="M298.33 599.36L298.75 598.83L298.95 598.1L298.91 597.22L298.65 596.26L298.18 595.28L297.53 594.34L296.74 593.51L295.87 592.85L294.98 592.4L294.13 592.19L293.37 592.24L292.77 592.54L281.92 601.39L281.5 601.92L281.3 602.65L281.34 603.53L281.6 604.49L282.07 605.48L282.72 606.41L283.51 607.24L284.38 607.9L285.27 608.35L286.12 608.56L286.87 608.51L287.48 608.21Z" fill="#fff"/>
<path d="M281.92 601.39L282.53 601.09L283.28 601.04L284.13 601.25L285.02 601.7L285.89 602.36L286.68 603.19L287.33 604.12L287.8 605.11L288.06 606.07L288.1 606.95L287.9 607.68L287.48 608.21"/>
<path d="M321.75 572.65L322.01 572.55L322.32 572.57L322.68 572.71L323.03 572.95L323.35 573.28L323.6 573.66L323.77 574.05L323.84 574.42L323.79 574.74L323.64 574.97" stroke-width="1"/>
<path d="M319.94 574.12L320.2 574.03L320.52 574.05L320.87 574.19L321.22 574.43L321.54 574.76L321.79 575.13L321.96 575.53L322.03 575.9L321.98 576.22L321.84 576.45" stroke-width="1"/>
<path d="M318.13 575.6L318.39 575.5L318.71 575.52L319.06 575.66L319.41 575.9L319.73 576.23L319.99 576.61L320.15 577L320.22 577.37L320.18 577.69L320.03 577.92" stroke-width="1"/>
<path d="M316.32 577.07L316.58 576.98L316.9 577L317.25 577.14L317.6 577.38L317.92 577.7L318.18 578.08L318.35 578.48L318.41 578.85L318.37 579.17L318.22 579.4" stroke-width="1"/>
<path d="M282.99 622.08L284.19 620.54L284.77 618.44L284.67 615.91L283.92 613.13L282.55 610.29L280.67 607.59L278.4 605.2L275.89 603.29L273.32 601.99L270.86 601.39L268.68 601.53L266.93 602.4L257.63 609.99L256.43 611.53L255.86 613.63L255.95 616.16L256.7 618.94L258.07 621.78L259.95 624.48L262.22 626.87L264.73 628.78L267.3 630.08L269.76 630.68L271.94 630.54L273.69 629.67Z" fill="#fff"/>
<path d="M257.63 609.99L259.38 609.12L261.56 608.98L264.02 609.58L266.59 610.87L269.1 612.78L271.37 615.17L273.25 617.88L274.62 620.72L275.37 623.49L275.47 626.02L274.89 628.13L273.69 629.67"/>
<path d="M270.84 626.18L271.62 625.19L271.99 623.83L271.93 622.19L271.44 620.4L270.56 618.57L269.35 616.82L267.88 615.28L266.26 614.05L264.6 613.21L263.02 612.82L261.61 612.91L260.48 613.47L245.37 625.8L244.59 626.79L244.22 628.15L244.28 629.78L244.77 631.58L245.65 633.41L246.86 635.16L248.33 636.7L249.95 637.93L251.61 638.77L253.19 639.16L254.6 639.07L255.73 638.51Z" fill="#fff"/>
<path d="M245.37 625.8L246.5 625.24L247.9 625.15L249.49 625.53L251.15 626.37L252.77 627.6L254.23 629.15L255.45 630.89L256.33 632.73L256.82 634.52L256.88 636.15L256.51 637.51L255.73 638.51"/>
<path d="M253.58 635.87L254.04 635.29L254.26 634.49L254.22 633.54L253.93 632.49L253.42 631.41L252.71 630.39L251.85 629.49L250.9 628.77L249.93 628.28L249 628.05L248.18 628.1L247.52 628.43L236.67 637.28L236.21 637.86L235.99 638.66L236.03 639.61L236.31 640.66L236.83 641.74L237.54 642.76L238.4 643.66L239.35 644.38L240.32 644.87L241.25 645.1L242.07 645.05L242.73 644.72Z" fill="#fff"/>
<path d="M236.67 637.28L237.33 636.95L238.15 636.9L239.08 637.13L240.05 637.62L241 638.34L241.86 639.24L242.57 640.26L243.09 641.34L243.37 642.39L243.41 643.34L243.19 644.14L242.73 644.72"/>
<path d="M246.82 629L247.64 628.69L248.66 628.76L249.79 629.2L250.91 629.98L251.93 631.02L252.75 632.23L253.29 633.49L253.5 634.68L253.36 635.7L252.88 636.44" stroke-width="1.5"/>
<path d="M244.88 630.58L245.7 630.27L246.72 630.34L247.85 630.78L248.98 631.56L249.99 632.6L250.81 633.81L251.35 635.07L251.56 636.26L251.42 637.28L250.94 638.02" stroke-width="1.5"/>
<path d="M242.94 632.16L243.77 631.85L244.79 631.92L245.91 632.36L247.04 633.14L248.06 634.18L248.87 635.39L249.41 636.65L249.62 637.84L249.48 638.86L249.01 639.6" stroke-width="1.5"/>
<path d="M241.01 633.74L241.83 633.43L242.85 633.5L243.98 633.94L245.1 634.72L246.12 635.76L246.94 636.97L247.47 638.23L247.68 639.42L247.54 640.44L247.07 641.18" stroke-width="1.5"/>
<path d="M239.07 635.33L239.89 635.01L240.91 635.08L242.04 635.52L243.16 636.3L244.18 637.34L245 638.55L245.54 639.81L245.75 641L245.61 642.02L245.13 642.76" stroke-width="1.5"/>
<path d="M260.16 607.93L262.34 607.1L265.04 607.28L268.02 608.45L271 610.52L273.69 613.28L275.85 616.47L277.28 619.8L277.83 622.96L277.46 625.64L276.21 627.6" stroke-width="2.2"/>
<path d="M237.57 657.49L238.73 656L239.29 653.96L239.2 651.51L238.47 648.82L237.15 646.07L235.32 643.45L233.12 641.14L230.7 639.29L228.21 638.03L225.83 637.45L223.72 637.59L222.02 638.43L220.63 639.57L219.46 641.06L218.9 643.1L218.99 645.55L219.73 648.24L221.05 650.99L222.87 653.61L225.07 655.92L227.5 657.77L229.99 659.03L232.37 659.61L234.48 659.47L236.17 658.63Z" fill="#fff" stroke-width="1.6"/>
<path d="M220.63 639.57L222.32 638.73L224.43 638.59L226.81 639.17L229.3 640.43L231.73 642.28L233.93 644.59L235.75 647.21L237.07 649.96L237.81 652.65L237.9 655.1L237.34 657.14L236.17 658.63" stroke-width="1.6"/>
<ellipse cx="228.4" cy="649.1" rx="7.13" ry="12.3" fill="#fff" stroke-width="1.6" transform="rotate(-39.2 228.4 649.1)"/>
<ellipse cx="228.4" cy="649.1" rx="4.58" ry="7.9" fill="#fff" transform="rotate(-39.2 228.4 649.1)"/>
<path d="M224.74 670.99L226.1 669.26L226.75 666.89L226.64 664.04L225.79 660.91L224.25 657.71L222.13 654.67L219.57 651.98L216.75 649.83L213.86 648.37L211.09 647.69L208.64 647.85L206.67 648.83L204.96 650.22L203.61 651.95L202.96 654.32L203.06 657.17L203.91 660.3L205.45 663.5L207.57 666.54L210.13 669.23L212.95 671.38L215.85 672.84L218.61 673.52L221.07 673.36L223.04 672.38Z" fill="#fff" stroke-width="1.6"/>
<path d="M204.96 650.22L206.93 649.24L209.39 649.08L212.15 649.76L215.05 651.22L217.87 653.37L220.43 656.06L222.55 659.1L224.09 662.3L224.94 665.43L225.04 668.28L224.39 670.65L223.04 672.38" stroke-width="1.6"/>
<ellipse cx="214" cy="661.3" rx="8.29" ry="14.3" fill="#fff" stroke-width="1.6" transform="rotate(-39.2 214 661.3)"/>
<ellipse cx="214" cy="661.3" rx="5.57" ry="9.6" fill="#fff" transform="rotate(-39.2 214 661.3)"/>
<path d="M207.27 682.31L208.5 680.73L209.09 678.58L208.99 675.99L208.22 673.15L206.82 670.24L204.89 667.47L202.57 665.03L200 663.07L197.37 661.74L194.86 661.13L192.63 661.27L190.83 662.16L189.28 663.43L188.05 665L187.46 667.16L187.56 669.75L188.33 672.59L189.73 675.5L191.66 678.27L193.98 680.71L196.55 682.66L199.18 683.99L201.69 684.61L203.92 684.46L205.72 683.57Z" fill="#fff" stroke-width="2.6"/>
<path d="M189.28 663.43L191.08 662.54L193.31 662.39L195.82 663.01L198.45 664.34L201.02 666.29L203.34 668.73L205.27 671.5L206.67 674.41L207.44 677.25L207.54 679.84L206.95 682L205.72 683.57" stroke-width="2.6"/>
<ellipse cx="197.5" cy="673.5" rx="7.54" ry="13" fill="#fff" stroke-width="2.6" transform="rotate(-39.2 197.5 673.5)"/>
<ellipse cx="197.5" cy="673.5" rx="5.39" ry="9.3" fill="#fff" stroke-width="1.2" transform="rotate(-39.2 197.5 673.5)"/>
<ellipse cx="197.5" cy="673.5" rx="3.94" ry="6.8" fill="#fff" stroke-width="2.4" transform="rotate(-39.2 197.5 673.5)"/>
<path d="M192.55 696.6L193.72 695.1L194.28 693.04L194.19 690.57L193.46 687.86L192.12 685.09L190.28 682.45L188.07 680.11L185.62 678.25L183.11 676.98L180.71 676.4L178.58 676.53L176.87 677.38L152.46 697.29L151.29 698.79L150.73 700.85L150.82 703.32L151.55 706.03L152.89 708.8L154.73 711.45L156.94 713.78L159.39 715.64L161.9 716.91L164.3 717.49L166.43 717.36L168.14 716.51Z" fill="#fff" stroke="none"/>
<path d="M175.76 678.77L176.83 677.42L178.33 676.61L180.18 676.36L182.29 676.71L184.53 677.62L186.78 679.05L188.91 680.92L190.82 683.13L192.38 685.55L193.52 688.04L194.18 690.48L194.31 692.73L193.91 694.66L193 696.17" stroke-width="1.5"/>
<path d="M173.05 680.98L174.17 679.59L175.76 678.77L177.73 678.59L179.95 679.04L182.3 680.1L184.62 681.7L186.8 683.76L188.68 686.14L190.16 688.71L191.15 691.3L191.59 693.77L191.46 695.97L190.76 697.76L189.53 699.04" stroke-width="1.5"/>
<path d="M170.33 683.19L171.4 681.85L172.9 681.03L174.76 680.79L176.87 681.13L179.1 682.05L181.35 683.48L183.49 685.35L185.39 687.55L186.96 689.97L188.1 692.47L188.75 694.91L188.89 697.16L188.49 699.09L187.58 700.59" stroke-width="1.5"/>
<path d="M167.62 685.4L168.74 684.01L170.34 683.2L172.3 683.01L174.53 683.46L176.87 684.52L179.2 686.13L181.37 688.18L183.25 690.56L184.73 693.13L185.73 695.73L186.17 698.2L186.04 700.39L185.34 702.18L184.11 703.46" stroke-width="1.5"/>
<path d="M164.91 687.62L165.98 686.27L167.48 685.45L169.33 685.21L171.44 685.56L173.68 686.47L175.93 687.9L178.06 689.77L179.97 691.98L181.53 694.39L182.68 696.89L183.33 699.33L183.46 701.58L183.06 703.51L182.15 705.02" stroke-width="1.5"/>
<path d="M162.2 689.83L163.32 688.44L164.91 687.62L166.88 687.43L169.1 687.88L171.45 688.94L173.78 690.55L175.95 692.61L177.83 694.99L179.31 697.56L180.3 700.15L180.74 702.62L180.61 704.82L179.91 706.61L178.68 707.89" stroke-width="1.5"/>
<path d="M159.48 692.04L160.55 690.69L162.05 689.88L163.91 689.64L166.02 689.98L168.26 690.89L170.51 692.32L172.64 694.19L174.54 696.4L176.11 698.82L177.25 701.32L177.91 703.76L178.04 706L177.64 707.93L176.73 709.44" stroke-width="1.5"/>
<path d="M156.77 694.25L157.89 692.86L159.49 692.05L161.45 691.86L163.68 692.31L166.02 693.37L168.35 694.97L170.52 697.03L172.4 699.41L173.89 701.98L174.88 704.58L175.32 707.05L175.19 709.24L174.49 711.03L173.26 712.31" stroke-width="1.5"/>
<path d="M154.06 696.46L155.13 695.12L156.63 694.3L158.49 694.06L160.59 694.4L162.83 695.32L165.08 696.75L167.22 698.62L169.12 700.82L170.68 703.24L171.83 705.74L172.48 708.18L172.61 710.43L172.21 712.36L171.31 713.86" stroke-width="1.5"/>
<ellipse cx="160.3" cy="706.9" rx="7.19" ry="12.4" fill="#fff" stroke-width="1.5" transform="rotate(-39.2 160.3 706.9)"/>
<ellipse cx="161" cy="706.33" rx="5.18" ry="8.93" fill="none" stroke-width="1.5" transform="rotate(-39.2 161 706.33)"/>
<ellipse cx="161.46" cy="705.95" rx="2.42" ry="5.21" fill="none" stroke-width="1.5" transform="rotate(-39.2 161.46 705.95)"/>
<path d="M153.82 729.32L155.09 727.7L155.7 725.47L155.6 722.81L154.8 719.87L153.36 716.88L151.37 714.02L148.98 711.5L146.33 709.49L143.62 708.12L141.03 707.49L138.73 707.63L136.88 708.55L135.33 709.82L134.06 711.44L133.45 713.66L133.55 716.33L134.35 719.26L135.79 722.26L137.78 725.11L140.17 727.63L142.82 729.65L145.53 731.02L148.12 731.65L150.42 731.5L152.27 730.58Z" fill="#fff" stroke-width="1.6"/>
<path d="M135.33 709.82L137.18 708.9L139.48 708.75L142.07 709.38L144.78 710.75L147.43 712.77L149.82 715.29L151.81 718.14L153.25 721.14L154.05 724.07L154.15 726.74L153.54 728.96L152.27 730.58" stroke-width="1.6"/>
<ellipse cx="143.8" cy="720.2" rx="7.77" ry="13.4" fill="#fff" stroke-width="1.6" transform="rotate(-39.2 143.8 720.2)"/>
<ellipse cx="143.8" cy="720.2" rx="3.83" ry="6.6" fill="#fff" stroke-width="1.2" transform="rotate(-39.2 143.8 720.2)"/>
<ellipse cx="143.8" cy="720.2" rx="2.67" ry="4.6" fill="#fff" stroke-width="1" transform="rotate(-39.2 143.8 720.2)"/>
<path d="M139.94 736.9L141.02 735.52L141.54 733.62L141.45 731.36L140.78 728.86L139.55 726.31L137.86 723.88L135.82 721.74L133.57 720.03L131.27 718.86L129.06 718.32L127.1 718.45L125.53 719.23L120.88 723.02L119.8 724.4L119.29 726.29L119.37 728.56L120.05 731.06L121.27 733.61L122.96 736.03L125 738.18L127.25 739.89L129.56 741.06L131.77 741.6L133.72 741.47L135.29 740.69Z" fill="#fff"/>
<path d="M120.88 723.02L122.45 722.24L124.41 722.12L126.62 722.65L128.92 723.82L131.17 725.53L133.21 727.68L134.9 730.11L136.13 732.65L136.81 735.15L136.89 737.42L136.37 739.31L135.29 740.69"/>
<path d="M134.15 739.3L135.06 738.13L135.5 736.54L135.43 734.63L134.86 732.53L133.83 730.38L132.4 728.34L130.68 726.53L128.79 725.09L126.85 724.11L124.99 723.65L123.34 723.76L122.02 724.42L118.53 727.26L117.62 728.42L117.19 730.02L117.26 731.93L117.83 734.03L118.86 736.17L120.29 738.22L122 740.02L123.9 741.47L125.84 742.45L127.7 742.9L129.34 742.8L130.67 742.14Z" fill="#fff"/>
<path d="M118.53 727.26L119.86 726.6L121.5 726.5L123.36 726.95L125.3 727.93L127.2 729.38L128.91 731.18L130.34 733.23L131.37 735.37L131.94 737.47L132.01 739.38L131.58 740.98L130.67 742.14"/>
<ellipse cx="124.6" cy="734.7" rx="5.57" ry="9.6" fill="#fff" stroke-width="1.8" transform="rotate(-39.2 124.6 734.7)"/>
<ellipse cx="124.6" cy="734.7" rx="3.25" ry="5.6" fill="#fff" stroke-width="2.4" transform="rotate(-39.2 124.6 734.7)"/>
<path d="M120.89 732.63L118.54 730.31" stroke-width="1.6"/>
<path d="M123.4 735.7L123.1 735.9" stroke-width="1.6"/>
<path d="M125.91 738.77L127.66 741.49" stroke-width="1.6"/>
<ellipse cx="116" cy="701.9" rx="1.6" ry="2.2" stroke-width="1.2"/>
<path d="M116.5 704L119.8 715" stroke-width="2.3"/>
<path d="M258.3 228.5L275.1 224.9L278.3 227L273.3 257.4L289 294.7L287.1 312.2L280 322L272.9 332L266.3 331.2L263.4 326.1L267.8 299.1L251.7 261.8Z" fill="#fff" stroke-width="1.4"/>
<path d="M261.9 230.4L256.4 261.8L272.2 299.8L268.5 326.8L271.4 330.5" stroke-width="1.1"/>
<path d="M261.9 230.4L277 227.5" stroke-width="1"/>
<path d="M257.5 262.1L270 259.2" stroke-width="1"/>
<path d="M275.8 301.3L287.5 298" stroke-width="1"/>
<ellipse cx="268.9" cy="238.7" rx="3.3" ry="5" stroke-width="1.3" transform="rotate(20 268.9 238.7)"/>
<path d="M279.31 312.39L278.07 312.01L276.63 312.13L275.1 312.77L273.59 313.86L272.18 315.34L270.99 317.1L270.09 319.03L269.55 321L269.39 322.86L269.64 324.5L270.27 325.79L271.24 326.66L308.66 347.84L309.91 348.22L311.34 348.09L312.87 347.46L314.39 346.37L315.79 344.89L316.98 343.12L317.88 341.19L318.43 339.23L318.58 337.37L318.34 335.73L317.71 334.43L316.74 333.56Z" fill="#fff" stroke-width="1.3"/>
<path d="M308.66 347.84L307.69 346.97L307.06 345.67L306.82 344.03L306.97 342.17L307.52 340.21L308.42 338.28L309.61 336.51L311.01 335.03L312.53 333.94L314.06 333.31L315.49 333.18L316.74 333.56" stroke-width="1.3"/>
<ellipse cx="312.7" cy="340.7" rx="4.92" ry="8.2" fill="#fff" stroke-width="1.3" transform="rotate(209.5 312.7 340.7)"/>
<ellipse cx="312.7" cy="340.7" rx="1.2" ry="2" fill="#fff" stroke-width="1.5" transform="rotate(209.5 312.7 340.7)"/>
<path d="M284.37 334.06L283.42 332.87L282.93 331.18L282.96 329.14L283.49 326.93L284.48 324.74L285.85 322.75L287.47 321.16L289.21 320.09L290.9 319.63L292.41 319.84" stroke-width="2.2"/>
<path d="M299.5 320L303 322.2" stroke-width="1.6"/>
<ellipse cx="300.4" cy="296.6" rx="3.6" ry="2" stroke-width="2.4" transform="rotate(35 300.4 296.6)"/>
<path d="M299.6 302.7L299.2 319.5"/>
<path d="M338.6 339.1L336.36 338.43L333.76 338.7L330.99 339.91L328.22 341.96L325.64 344.71L323.45 347.99L321.77 351.56L320.73 355.19L320.4 358.62L320.8 361.62L321.9 363.99L323.63 365.56L327.12 367.53L329.36 368.2L331.95 367.93L334.73 366.72L337.5 364.67L340.07 361.92L342.27 358.64L343.95 355.07L344.99 351.44L345.32 348.02L344.92 345.01L343.82 342.64L342.08 341.07Z" fill="#fff" stroke-width="1.6"/>
<path d="M327.12 367.53L325.38 365.96L324.28 363.59L323.88 360.58L324.21 357.16L325.25 353.53L326.93 349.96L329.13 346.68L331.7 343.93L334.47 341.88L337.25 340.67L339.84 340.4L342.08 341.07" stroke-width="1.6"/>
<ellipse cx="334.6" cy="354.3" rx="8.47" ry="14.6" fill="#fff" stroke-width="2.6" transform="rotate(209.5 334.6 354.3)"/>
<ellipse cx="334.6" cy="354.3" rx="5.92" ry="10.2" fill="#fff" stroke-width="2.6" transform="rotate(209.5 334.6 354.3)"/>
<ellipse cx="334.6" cy="354.3" rx="4.18" ry="7.2" fill="#fff" stroke-width="1.2" transform="rotate(209.5 334.6 354.3)"/>
<path d="M358.37 355.39L356.72 354.94L354.77 355.25L352.66 356.29L350.52 358.01L348.5 360.28L346.75 362.94L345.37 365.82L344.46 368.72L344.09 371.43L344.28 373.79L345.02 375.62L346.26 376.8L351.04 379.51L352.69 379.96L354.64 379.65L356.75 378.6L358.89 376.88L360.91 374.61L362.67 371.95L364.04 369.07L364.95 366.17L365.32 363.46L365.13 361.1L364.39 359.27L363.16 358.09Z" fill="#fff" stroke-width="1.5"/>
<path d="M351.04 379.51L349.81 378.33L349.07 376.5L348.88 374.14L349.25 371.43L350.16 368.53L351.53 365.65L353.29 362.99L355.31 360.72L357.45 359L359.56 357.95L361.51 357.64L363.16 358.09" stroke-width="1.5"/>
<ellipse cx="357.1" cy="368.8" rx="6.4" ry="12.3" fill="#fff" stroke-width="1.6" transform="rotate(209.5 357.1 368.8)"/>
<ellipse cx="357.1" cy="368.8" rx="4.47" ry="8.6" fill="#fff" stroke-width="2.2" transform="rotate(209.5 357.1 368.8)"/>
<path d="M349.27 372.33L349.15 370.69L349.44 368.78L350.13 366.77L351.15 364.79L352.43 363.02L353.88 361.57L355.36 360.57L356.79 360.1L358.03 360.18L359 360.82" stroke-width="1"/>
<path d="M365 373.5L416.1 403.5"/>
<path d="M563.63 484.24L562.38 483.87L560.94 484.03L559.43 484.69L557.93 485.81L556.55 487.31L555.39 489.09L554.53 491.04L554.02 493.01L553.89 494.88L554.17 496.51L554.82 497.8L555.81 498.65L568.99 505.81L570.24 506.17L571.67 506.01L573.19 505.36L574.69 504.24L576.06 502.73L577.22 500.95L578.09 499L578.6 497.03L578.72 495.16L578.45 493.53L577.8 492.25L576.81 491.39Z" fill="#fff" stroke-width="1.3"/>
<path d="M568.99 505.81L568 504.95L567.35 503.67L567.08 502.04L567.2 500.17L567.71 498.2L568.58 496.25L569.74 494.47L571.11 492.96L572.61 491.84L574.13 491.19L575.56 491.03L576.81 491.39" stroke-width="1.3"/>
<ellipse cx="572.9" cy="498.6" rx="4.92" ry="8.2" fill="#fff" stroke-width="1.3" transform="rotate(208.5 572.9 498.6)"/>
<ellipse cx="572.9" cy="498.6" rx="3.6" ry="6" fill="#fff" stroke-width="1.3" transform="rotate(208.5 572.9 498.6)"/>
<path d="M491.5 450.3L551.2 486.2"/>
<path d="M593.54 497.07L591.88 496.64L589.94 496.99L587.84 498.07L585.73 499.83L583.76 502.13L582.05 504.82L580.72 507.73L579.86 510.64L579.54 513.36L579.77 515.71L580.54 517.53L581.8 518.69L586.63 521.31L588.29 521.73L590.23 521.39L592.32 520.3L594.43 518.55L596.41 516.25L598.12 513.55L599.45 510.65L600.3 507.74L600.62 505.01L600.39 502.66L599.62 500.85L598.37 499.69Z" fill="#fff" stroke-width="1.5"/>
<path d="M586.63 521.31L585.38 520.15L584.61 518.34L584.38 515.99L584.7 513.26L585.55 510.35L586.88 507.45L588.59 504.75L590.57 502.45L592.68 500.7L594.77 499.61L596.71 499.27L598.37 499.69" stroke-width="1.5"/>
<ellipse cx="592.5" cy="510.5" rx="6.4" ry="12.3" fill="#fff" stroke-width="1.6" transform="rotate(208.5 592.5 510.5)"/>
<ellipse cx="592.5" cy="510.5" rx="4.47" ry="8.6" fill="#fff" stroke-width="2.2" transform="rotate(208.5 592.5 510.5)"/>
<path d="M584.73 514.16L584.58 512.52L584.84 510.62L585.49 508.59L586.48 506.6L587.73 504.8L589.15 503.33L590.62 502.31L592.03 501.81L593.28 501.87L594.26 502.49" stroke-width="1"/>
<path d="M615.44 507.33L613.19 506.7L610.59 507.02L607.83 508.27L605.1 510.37L602.58 513.17L600.44 516.48L598.82 520.09L597.85 523.73L597.58 527.16L598.03 530.16L599.17 532.51L600.93 534.05L604.45 535.96L606.7 536.59L609.29 536.27L612.05 535.02L614.78 532.92L617.31 530.12L619.45 526.81L621.06 523.21L622.04 519.56L622.31 516.13L621.85 513.13L620.71 510.79L618.95 509.24Z" fill="#fff" stroke-width="1.6"/>
<path d="M604.45 535.96L602.69 534.41L601.55 532.07L601.09 529.07L601.36 525.64L602.34 521.99L603.95 518.39L606.09 515.08L608.62 512.28L611.35 510.18L614.11 508.93L616.7 508.61L618.95 509.24" stroke-width="1.6"/>
<ellipse cx="611.7" cy="522.6" rx="8.47" ry="14.6" fill="#fff" stroke-width="2.6" transform="rotate(208.5 611.7 522.6)"/>
<ellipse cx="611.7" cy="522.6" rx="5.92" ry="10.2" fill="#fff" stroke-width="2.6" transform="rotate(208.5 611.7 522.6)"/>
<ellipse cx="611.7" cy="522.6" rx="4.18" ry="7.2" fill="#fff" stroke-width="1.2" transform="rotate(208.5 611.7 522.6)"/>
<path d="M628.53 525.15L627.46 524.82L626.21 524.93L624.89 525.47L623.57 526.42L622.36 527.7L621.32 529.22L620.54 530.89L620.07 532.59L619.93 534.2L620.14 535.62L620.68 536.75L621.52 537.5L639.69 547.82L640.77 548.16L642.01 548.05L643.34 547.5L644.65 546.56L645.87 545.28L646.9 543.75L647.69 542.08L648.16 540.39L648.3 538.77L648.09 537.36L647.55 536.23L646.71 535.48Z" fill="#fff" stroke-width="1.3"/>
<path d="M639.3 532.6L642.6 534.6" stroke-width="1.8"/>
<path d="M648.53 535.89L647.13 535.47L645.52 535.63L643.81 536.36L642.12 537.6L640.56 539.27L639.24 541.26L638.25 543.44L637.66 545.65L637.5 547.74L637.79 549.57L638.51 551.02L639.61 551.99L650.54 558.05L651.94 558.46L653.55 558.31L655.26 557.58L656.95 556.34L658.51 554.67L659.83 552.68L660.82 550.5L661.41 548.29L661.57 546.2L661.28 544.37L660.56 542.92L659.46 541.95Z" fill="#fff" stroke-width="1.3"/>
<path d="M658.9 535.7L662.2 533.7L704.5 530.7L707.8 528.1L712.1 506.2L714.6 504.5L733.2 502.3L736.6 505.3L732.3 530.7L729 534.9L711.2 538.3L680.8 540.8L676.6 564.5L672.4 567.8L658.9 572.1L652.9 567.8Z" fill="#fff" stroke-width="1.4"/>
<path d="M662.2 538.3L656.7 569.5" stroke-width="1.1"/>
<path d="M664.8 536.6L705.3 533.7L710.4 530.7L715.4 507.9L734.9 505.3" stroke-width="1.1"/>
<path d="M715.4 507.9L711.2 538.3" stroke-width="1"/>
<ellipse cx="725.6" cy="516.3" rx="3.6" ry="5" stroke-width="1.2" transform="rotate(20 725.6 516.3)"/>
<ellipse cx="669" cy="558.5" rx="5.6" ry="7.6" stroke-width="1.3" transform="rotate(22 669 558.5)"/>
<ellipse cx="669" cy="558.5" rx="3.6" ry="5.4" stroke-width="1.2" transform="rotate(22 669 558.5)"/>
<ellipse cx="641.7" cy="507.8" rx="3.4" ry="1.9" stroke-width="2.4" transform="rotate(35 641.7 507.8)"/>
<path d="M640.9 515.3L640.9 531.5"/>
<path d="M366.9 869.3Q367.5 866.5 370.7 864.9L494.4 795.7Q500.5 793.3 507.5 795.3L529.3 804.4L572.8 830.5L585.9 843.6Q589.8 847.8 586.5 852L560.6 865.4L461.5 919.4Q455 922.8 449.1 920.7L428.2 913.7L382.9 887.6L367.5 872Q366.5 870.8 366.9 869.3Z" fill="#fff" stroke-width="1.5"/>
<path d="M392.5 864.9L445.6 835.3Q448 833 452 833.2L463.1 833.6Q468.8 832 469.2 826Q469.5 822.5 473.5 820.5L491.8 810.5L520.5 810.5L564.1 836.6L564.1 851.5L539.7 865.4L527 864.6Q521 865.5 520.5 870Q520.6 875 517.5 876.5L464.8 906.8L434.3 905.9L396.8 883.2L392.5 879.8Z" stroke-width="1.5"/>
<ellipse cx="379.1" cy="870.2" rx="5.6" ry="3.4" stroke-width="1.3" transform="rotate(-5 379.1 870.2)"/>
<ellipse cx="457" cy="826.9" rx="5.6" ry="3.4" stroke-width="1.3" transform="rotate(-5 457 826.9)"/>
<ellipse cx="501.4" cy="803" rx="5.6" ry="3.4" stroke-width="1.3" transform="rotate(-5 501.4 803)"/>
<ellipse cx="577.2" cy="848" rx="5.6" ry="3.4" stroke-width="1.3" transform="rotate(-5 577.2 848)"/>
<ellipse cx="531.9" cy="871" rx="5.6" ry="3.4" stroke-width="1.3" transform="rotate(-5 531.9 871)"/>
<ellipse cx="453.8" cy="915" rx="5.6" ry="3.4" stroke-width="1.3" transform="rotate(-5 453.8 915)"/>
<path d="M372.6 615.5L378.3 606.6L385.5 597L391.9 594.1L399.2 596.2L405.6 602.6L407.5 609.9L405.6 618.7L400.8 625.9L396.8 629.2L400.8 632.4L401.6 636.4L398.4 642L391.9 649.3L387.9 651.7L384.7 650.9L378.3 656.5L367.8 651.7L372.1 623.5Z" fill="#fff" stroke-width="1.4"/>
<path d="M372.6 615.5L373.8 621.9L383.1 625.1L389.8 616.3L394.3 607.5L399.5 603.1" stroke-width="1.1"/>
<path d="M399.5 603.1L403.2 608.3L402.7 615.5L398.4 621.9L393.5 623.1L390.3 620.3L389.8 616.3" stroke-width="1.1"/>
<path d="M376.6 608.3L385.5 612.8L394.3 601" stroke-width="1"/>
<path d="M383.1 625.1L378.3 656.5" stroke-width="1.1"/>
<path d="M372.1 623.5L382.3 628.4L389.5 621.9" stroke-width="1"/>
<ellipse cx="382.8" cy="609.1" rx="3" ry="1.7" stroke-width="1.1" transform="rotate(-25 382.8 609.1)"/>
<path d="M378 698.9L383.7 690L390.9 680.4L397.3 677.5L404.6 679.6L411 686L412.9 693.3L411 702.1L406.2 709.3L402.2 712.6L406.2 715.8L407 719.8L403.8 725.4L397.3 732.7L393.3 735.1L390.1 734.3L383.7 739.9L373.2 735.1L377.5 706.9Z" fill="#fff" stroke-width="1.4"/>
<path d="M378 698.9L379.2 705.3L388.5 708.5L395.2 699.7L399.7 690.9L404.9 686.5" stroke-width="1.1"/>
<path d="M404.9 686.5L408.6 691.7L408.1 698.9L403.8 705.3L398.9 706.5L395.7 703.7L395.2 699.7" stroke-width="1.1"/>
<path d="M382 691.7L390.9 696.2L399.7 684.4" stroke-width="1"/>
<path d="M388.5 708.5L383.7 739.9" stroke-width="1.1"/>
<path d="M377.5 706.9L387.7 711.8L394.9 705.3" stroke-width="1"/>
<ellipse cx="388.2" cy="692.5" rx="3" ry="1.7" stroke-width="1.1" transform="rotate(-25 388.2 692.5)"/>
<ellipse cx="369.1" cy="672.5" rx="6.2" ry="2.9" fill="#fff" stroke-width="2.3" transform="rotate(5 369.1 672.5)"/>
<ellipse cx="369.1" cy="672.5" rx="2.6" ry="1" stroke-width="1.4" transform="rotate(5 369.1 672.5)"/>
<ellipse cx="375.5" cy="754.9" rx="6.2" ry="2.9" fill="#fff" stroke-width="2.3" transform="rotate(5 375.5 754.9)"/>
<ellipse cx="375.5" cy="754.9" rx="2.6" ry="1" stroke-width="1.4" transform="rotate(5 375.5 754.9)"/>
<path d="M369.94 682.63L362.74 718.63L356.46 717.37L363.66 681.37Q367.39 679.06 369.94 682.63Z" fill="#fff" stroke-width="1.3"/>
<path d="M369.55 685.19L363.27 682.73" stroke-width="1"/>
<path d="M368.9 688.42L362.62 685.97" stroke-width="1"/>
<path d="M368.25 691.66L361.98 689.21" stroke-width="1"/>
<path d="M367.6 694.9L361.33 692.44" stroke-width="1"/>
<path d="M366.96 698.13L360.68 695.68" stroke-width="1"/>
<path d="M366.31 701.37L360.03 698.91" stroke-width="1"/>
<path d="M365.66 704.6L359.39 702.15" stroke-width="1"/>
<path d="M365.02 707.84L358.74 705.39" stroke-width="1"/>
<path d="M364.37 711.08L358.09 708.62" stroke-width="1"/>
<path d="M351.91 720.93l2.5 -3.6l8.5 -0.4l3 3.2l-0.3 4.2l-3.2 3l-7.5 0.2l-3 -2.8Z" fill="#fff" stroke-width="1.4"/>
<path d="M351.91 720.93l3 2.6l7.3 -0.2l3.3 -3" stroke-width="1"/>
<path d="M376.04 764L368.84 801.6L362.56 800.4L369.76 762.8Q373.46 760.45 376.04 764Z" fill="#fff" stroke-width="1.3"/>
<path d="M375.67 766.57L369.38 764.16" stroke-width="1"/>
<path d="M375.05 769.81L368.76 767.4" stroke-width="1"/>
<path d="M374.43 773.05L368.14 770.64" stroke-width="1"/>
<path d="M373.8 776.29L367.52 773.89" stroke-width="1"/>
<path d="M373.18 779.53L366.9 777.13" stroke-width="1"/>
<path d="M372.56 782.77L366.28 780.37" stroke-width="1"/>
<path d="M371.94 786.01L365.66 783.61" stroke-width="1"/>
<path d="M371.32 789.25L365.04 786.85" stroke-width="1"/>
<path d="M370.7 792.5L364.42 790.09" stroke-width="1"/>
<path d="M358.04 803.94l2.5 -3.6l8.5 -0.4l3 3.2l-0.3 4.2l-3.2 3l-7.5 0.2l-3 -2.8Z" fill="#fff" stroke-width="1.4"/>
<path d="M358.04 803.94l3 2.6l7.3 -0.2l3.3 -3" stroke-width="1"/>
<path d="M382.1 426L382.1 439.4L385.7 446.6L396.9 457.9L439.5 483.6L462.9 493.3Q469 495.3 475.7 494.1L481.4 490.4L604.2 422.9L604.2 404L591 397L560 400L470 376L445.6 393.5L413 413L400 419.3L388 420.5Z" fill="#fff" stroke-width="1.4"/>
<path d="M388.1 439.4L397.7 450.7L440.3 477.2L456.5 482.5" stroke-width="1.2"/>
<path d="M397.7 450.7L397.7 457.9" stroke-width="1.1"/>
<path d="M440.3 477.2L440.3 483.6" stroke-width="1.1"/>
<path d="M477.5 482.4L550.1 442.6" stroke-width="1.2"/>
<path d="M526.5 465.8L598.3 426.1" stroke-width="1.2"/>
<path d="M598.5 416.8L559 436.7" stroke-width="1.2"/>
<path d="M549.8 420.5L578.1 409.4" stroke-width="1.1"/>
<path d="M488.9 455.8L505 465.2" stroke-width="1.1"/>
<path d="M477.5 463.2L494.2 473.3Q499.6 473.6 505 468" stroke-width="1.1"/>
<path d="M400.2 419.3L413.2 413.2" stroke-width="1.1"/>
<path d="M446.4 391.1L458.5 386.1" stroke-width="1.1"/>
<path d="M448 396L461 388.5" stroke-width="1.1"/>
<path d="M478.6 375L503.5 363" stroke-width="1.1"/>
<path d="M481 378.5L502 366.5" stroke-width="1.1"/>
<ellipse cx="509" cy="354.3" rx="6.5" ry="4.2" fill="#fff" stroke-width="1.3" transform="rotate(-25 509 354.3)"/>
<ellipse cx="509.5" cy="354.6" rx="3" ry="1.8" stroke-width="1.1" transform="rotate(-25 509.5 354.6)"/>
<path d="M459.2 381.7L459.2 387.7A10.8 6 0 0 0 480.8 387.7L480.8 381.7Z" fill="#fff" stroke-width="1.3"/>
<ellipse cx="470" cy="381.7" rx="10.8" ry="6" fill="#fff" stroke-width="1.3"/>
<ellipse cx="470" cy="381.7" rx="5" ry="2.8" stroke-width="1.3"/>
<path d="M382.1 425.7L382.1 439.4L386 446L407 446L406.9 425.7Z" fill="#fff" stroke="none"/>
<path d="M382.1 425.7L382.1 439.4" stroke-width="1.3"/>
<path d="M406.9 425.7L406.9 438.2" stroke-width="1.3"/>
<path d="M382.1 433.5A12.4 6.4 0 0 0 406.9 433.5" stroke-width="1.3"/>
<ellipse cx="394.5" cy="425.7" rx="12.4" ry="6.4" fill="#fff" stroke-width="1.3"/>
<ellipse cx="394.5" cy="425.7" rx="5.5" ry="3" stroke-width="1.3"/>
<path d="M455.3 399.5L553.8 321.6Q556.5 319.8 559.4 320.3L576.1 326.6L592.2 339.5L606.6 355.6Q610.3 360 610.6 366L610.7 379.9L590.4 395.4L578 409.4L503 439L500.3 430.5Z" fill="#fff" stroke="none"/>
<path d="M455.3 399.5L553.8 321.6Q556.5 319.8 559.4 320.3L576.1 326.6L592.2 339.5L606.6 355.6Q610.3 360 610.6 366L610.7 379.9L590.4 395.4" stroke-width="1.4"/>
<path d="M500.3 430.5L604 346.5" stroke-width="1.2"/>
<path d="M521.2 359.8L522 383.1L529.3 384.7L565 368.5L573.5 356.4L581.9 344" fill="#fff" stroke-width="1.2"/>
<path d="M521.2 359.8Q528 345 536.9 336.6L557.5 331.9L572.6 331.9Q581 336 581.9 344.1Q578 352 572.6 356.3L562.2 361.9L529.4 364.7Q524 363 521.2 359.8Z" fill="#fff" stroke-width="1.3"/>
<ellipse cx="551.6" cy="346.9" rx="8.4" ry="4.6" stroke-width="1.2" transform="rotate(-3 551.6 346.9)"/>
<ellipse cx="532.6" cy="357.4" rx="3.9" ry="2.2" fill="#000" stroke-width="1" transform="rotate(-3 532.6 357.4)"/>
<ellipse cx="570.7" cy="336.6" rx="3.4" ry="2.4" stroke-width="1.2"/>
<path d="M568.5 336.6L573 336.6" stroke-width="1"/>
<path d="M570.7 335L570.7 338.3" stroke-width="1"/>
<path d="M558 327Q566 324 574 331Q580 340 577.5 349" stroke-width="1" stroke-dasharray="3 2.5"/>
<path d="M563 329L585 351" stroke-width="1" stroke-dasharray="3 2.5"/>
<path d="M584 343Q596 341 603 352Q607 360 603 366Q596 367 590 358" stroke-width="1" stroke-dasharray="3 2.5"/>
<path d="M579 352L598 340" stroke-width="1" stroke-dasharray="3 2.5"/>
<path d="M578 403.1L578 410.6A13.1 6.6 0 0 0 598.5 416.3L604.2 422.9L604.2 403.1Z" fill="#fff" stroke="none"/>
<path d="M578 403.1L578 410.6A13.1 6.6 0 0 0 598.5 416.3" stroke-width="1.3"/>
<path d="M604.2 403.1L604.2 422.9" stroke-width="1.3"/>
<ellipse cx="591.1" cy="403.1" rx="13.1" ry="6.6" fill="#fff" stroke-width="1.3"/>
<ellipse cx="591.1" cy="403.1" rx="5.8" ry="3.1" stroke-width="1.3"/>
<path d="M533.4 427.5L533.4 435.5A12.7 6.2 0 0 0 550 441.4L558.8 437L558.8 427.5Z" fill="#fff" stroke="none"/>
<path d="M533.4 427.5L533.4 435.5A12.7 6.2 0 0 0 550 441.4" stroke-width="1.3"/>
<path d="M558.8 427.5L558.8 437.2" stroke-width="1.3"/>
<ellipse cx="546.1" cy="427.5" rx="12.7" ry="6.2" fill="#fff" stroke-width="1.3"/>
<ellipse cx="546.1" cy="427.5" rx="5.6" ry="3" stroke-width="1.3"/>
<path d="M560.1 396L560.1 413.3Q565 416 570.5 413.3L570.5 396Z" fill="#fff" stroke-width="1.3"/>
<path d="M554.6 388.8L554.6 397.2Q564 403.5 573.6 397.2L573.6 388.8Z" fill="#fff" stroke-width="1.4"/>
<ellipse cx="564.1" cy="388.8" rx="9.5" ry="4.5" fill="#fff" stroke-width="1.4"/>
<ellipse cx="564.3" cy="388.8" rx="5.2" ry="2.6" fill="#000" stroke-width="1"/>
<path d="M405.9 441.2L407.4 424.2Q409.5 415 414 408.8Q419 401 425.1 396.2Q431 392 436.9 391.5Q441 391.6 444.2 393.3L488.5 420.5Q491 422 492.2 424.2L494.4 430.9L501.7 433.8L502.5 441.9L501.7 447.8L494.4 450.8L470 466L447.2 467L408.1 443.4Z" fill="#fff" stroke="none"/>
<path d="M405.9 441.2L407.4 424.2Q409.5 415 414 408.8Q419 401 425.1 396.2Q431 392 436.9 391.5Q441 391.6 444.2 393.3L488.5 420.5Q491 422 492.2 424.2L494.4 430.9" stroke-width="1.4"/>
<path d="M408.1 443.4L447.2 467" stroke-width="1.2"/>
<path d="M494.4 430.9L501.7 433.8L502.5 441.9L501.7 447.8L494.4 450.8" stroke-width="1.2"/>
<path d="M495.8 431.6L501.5 428.5" stroke-width="1.1"/>
<path d="M503.2 439L533.6 429.3" stroke-width="1.1"/>
<path d="M488.5 420.5Q484 418 480.4 418.6Q475 420 470.8 422.8Q464 427.5 459 434.6Q453.5 442.5 450.9 450.8Q449 459 448.7 468.5" stroke-width="1.3"/>
<path d="M492.9 430.1Q491 426 488.5 424.2Q484 423 479.6 424.2Q474 426.5 469.3 431.6Q464 438 461.2 446.4Q459 456 459 467" stroke-width="1.2"/>
<ellipse cx="481.6" cy="443.6" rx="10.2" ry="17" fill="#fff" stroke-width="2.4" transform="rotate(208 481.6 443.6)"/>
<ellipse cx="481.6" cy="443.6" rx="8.28" ry="13.8" fill="none" stroke-width="1.2" transform="rotate(208 481.6 443.6)"/>
<ellipse cx="481.9" cy="443.8" rx="6.78" ry="11.3" fill="none" stroke-width="1.6" transform="rotate(208 481.9 443.8)"/>
<path d="M476.5 449.5L482 447.5" stroke-width="1.2"/>
<path d="M480 440L486 437.5" stroke-width="1.2"/>
<path d="M485.5 436L484.5 446" stroke-width="1.6"/>
<path d="M408.8 464L461.9 424.2" stroke-width="1.1" stroke-dasharray="5.5 3"/>
<path d="M420.6 468.5L473.7 428.7" stroke-width="1.1" stroke-dasharray="5.5 3"/>
<ellipse cx="464.1" cy="416.1" rx="7" ry="11" stroke-width="1" stroke-dasharray="3.5 2.5" transform="rotate(28 464.1 416.1)"/>
<path d="M466 421Q470 424 476 421.5" stroke-width="1" stroke-dasharray="3 2.5"/>
<path d="M464.9 458.5L464.9 465L469.3 465L469.3 458.5Z" fill="#fff" stroke-width="1.2"/>
<path d="M450 479.3L461.4 483.3" stroke-width="1.2"/>
<path d="M455.9 471.3L455.9 478A12.8 6 0 0 0 481.5 479.3L481.5 471.3Z" fill="#fff" stroke-width="1.3"/>
<ellipse cx="468.7" cy="471.3" rx="12.8" ry="6" fill="#fff" stroke-width="1.3"/>
<ellipse cx="468.7" cy="471.3" rx="5.5" ry="3" stroke-width="1.3"/>
<path d="M468.5 297L468.5 320.5Q473.6 325.5 478.7 320.5L478.7 297Z" fill="#fff" stroke-width="1.4"/>
<path d="M468.5 301.5Q473.6 303.3 478.7 301.5" stroke-width="1.1"/>
<path d="M468.5 306.8Q473.6 308.6 478.7 306.8" stroke-width="1.1"/>
<path d="M468.5 312.1Q473.6 313.9 478.7 312.1" stroke-width="1.1"/>
<path d="M468.5 317.4Q473.6 319.2 478.7 317.4" stroke-width="1.1"/>
<path d="M464.2 290L464.2 297.5L469.5 300L478.2 300L483 297.5L483 290Z" fill="#fff" stroke-width="1.5"/>
<path d="M469.5 295L469.5 300" stroke-width="1.1"/>
<path d="M478.2 295L478.2 300" stroke-width="1.1"/>
<ellipse cx="473.6" cy="290" rx="9.4" ry="4.7" fill="#fff" stroke-width="1.5"/>
<ellipse cx="472.9" cy="339.2" rx="8.6" ry="4.8" fill="#fff" stroke-width="1.8"/>
<path d="M471.5 337.3Q467.5 338 468.8 340.3Q472.9 343 477 340.3Q478.3 338 474.3 337.3" stroke-width="1.3"/>
<path d="M472.9 335.5L472.9 341" stroke-width="1.2"/>
<path d="M472.7 346.2L472.2 372.6"/>
<path d="M640.51 310.93L640.98 310.36L641.21 309.56L641.2 308.61L640.94 307.55L640.44 306.47L639.75 305.43L638.91 304.51L637.98 303.77L637.02 303.26L636.1 303.01L635.27 303.05L634.6 303.36L629.09 307.67L628.62 308.24L628.39 309.04L628.4 309.99L628.66 311.05L629.16 312.13L629.85 313.17L630.69 314.09L631.62 314.83L632.58 315.34L633.5 315.59L634.33 315.55L635 315.24Z" fill="#fff" stroke-width="1.6"/>
<path d="M629.09 307.67L629.76 307.36L630.58 307.32L631.5 307.57L632.46 308.08L633.4 308.82L634.24 309.74L634.93 310.78L635.42 311.86L635.68 312.92L635.7 313.87L635.46 314.66L635 315.24" stroke-width="1.6"/>
<ellipse cx="632.04" cy="311.45" rx="2.78" ry="4.8" fill="#000" stroke-width="1.4" transform="rotate(-38 632.04 311.45)"/>
<path d="M633.89 303.92L634.72 303.62L635.74 303.71L636.86 304.18L637.97 304.98L638.96 306.05L639.75 307.27L640.27 308.54L640.45 309.74L640.29 310.75L639.8 311.48" stroke-width="1.3"/>
<path d="M632.32 305.15L633.15 304.85L634.17 304.94L635.28 305.41L636.39 306.21L637.39 307.28L638.18 308.5L638.69 309.77L638.87 310.97L638.71 311.98L638.22 312.71" stroke-width="1.3"/>
<path d="M630.74 306.38L631.57 306.09L632.59 306.17L633.71 306.64L634.82 307.45L635.81 308.51L636.6 309.73L637.11 311L637.3 312.2L637.14 313.21L636.65 313.94" stroke-width="1.3"/>
<path d="M399.11 493.83L399.58 493.26L399.81 492.46L399.8 491.51L399.54 490.45L399.04 489.37L398.35 488.33L397.51 487.41L396.58 486.67L395.62 486.16L394.7 485.91L393.87 485.95L393.2 486.26L387.69 490.57L387.22 491.14L386.99 491.94L387 492.89L387.26 493.95L387.76 495.03L388.45 496.07L389.29 496.99L390.22 497.73L391.18 498.24L392.1 498.49L392.93 498.45L393.6 498.14Z" fill="#fff" stroke-width="1.6"/>
<path d="M387.69 490.57L388.36 490.26L389.18 490.22L390.1 490.47L391.06 490.98L392 491.72L392.84 492.64L393.53 493.68L394.02 494.76L394.28 495.82L394.3 496.77L394.06 497.56L393.6 498.14" stroke-width="1.6"/>
<ellipse cx="390.64" cy="494.35" rx="2.78" ry="4.8" fill="#000" stroke-width="1.4" transform="rotate(-38 390.64 494.35)"/>
<path d="M392.49 486.82L393.32 486.52L394.34 486.61L395.46 487.08L396.57 487.88L397.56 488.95L398.35 490.17L398.87 491.44L399.05 492.64L398.89 493.65L398.4 494.38" stroke-width="1.3"/>
<path d="M390.92 488.05L391.75 487.75L392.77 487.84L393.88 488.31L394.99 489.11L395.99 490.18L396.78 491.4L397.29 492.67L397.47 493.87L397.31 494.88L396.82 495.61" stroke-width="1.3"/>
<path d="M389.34 489.28L390.17 488.99L391.19 489.07L392.31 489.54L393.42 490.35L394.41 491.41L395.2 492.63L395.71 493.9L395.9 495.1L395.74 496.11L395.25 496.84" stroke-width="1.3"/>
<path d="M628.4 314.6L610.7 329.1"/>
<path d="M399.1 488.1L415.4 474.3"/>
<path d="M352.2 397.5L355.2 408.9" stroke-width="2.6"/>
<ellipse cx="352.2" cy="396.7" rx="1.3" ry="1.8" stroke-width="1"/>
<path d="M352.6 399L353.2 408.5" stroke-width="1"/>
<path d="M385.8 501L386.9 512.5" stroke-width="2.6"/>
<ellipse cx="385.8" cy="500.2" rx="1.3" ry="1.8" stroke-width="1"/>
<path d="M502.4 262.9L494.9 268.8L582.9 324.4L578.2 330"/>
<path d="M547.8 284.6L542.3 289L617.4 336L604.3 346.5"/>
<path d="M605.8 332.3L597 340.3"/>
<path d="M363.3 416.6L371.5 410.4L372.6 410.9L386.9 482.4L405.6 467.8"/>
<path d="M395.9 515L430 486.5"/>
<path d="M418.8 474.5L414.6 494.5"/>
<path d="M413 505L396.5 592"/>
<path d="M440.6 488L401 676.5"/>
<path d="M467.3 498L456.4 818.8"/>
<path d="M378.4 740.5L376.4 750" stroke-dasharray="4 2"/>
<path d="M372.2 657.7L369.8 667.5" stroke-dasharray="4 2"/>
<ellipse cx="128.5" cy="295" rx="0.5" ry="0.5" fill="#000" stroke-width="0.6"/>
<ellipse cx="260.3" cy="406" rx="0.5" ry="0.5" fill="#000" stroke-width="0.6"/>
<ellipse cx="2.5" cy="472.5" rx="0.5" ry="0.5" fill="#000" stroke-width="0.6"/>
<ellipse cx="611.3" cy="722.5" rx="0.5" ry="0.5" fill="#000" stroke-width="0.6"/>
<path d="M742.5 114.8L746 114.8" stroke-width="1.2"/>
</g>
<filter id="idf" x="0" y="0" width="746" height="923" filterUnits="userSpaceOnUse"><feOffset dx="0" dy="0"/></filter>
<g fill="#000" stroke="#000" filter="url(#idf)">
<text x="148.3" y="18.4" font-size="17" font-weight="bold" stroke="none" textLength="25.2" lengthAdjust="spacingAndGlyphs">Fig.</text>
<text x="186.2" y="18.4" font-size="17" font-weight="bold" stroke="none" textLength="48.7" lengthAdjust="spacingAndGlyphs">1341A</text>
<text x="254.8" y="18.4" font-size="17" font-weight="bold" stroke="none" textLength="77.2" lengthAdjust="spacingAndGlyphs">STEERING</text>
<text x="342.7" y="18.4" font-size="17" font-weight="bold" stroke="none" textLength="79.4" lengthAdjust="spacingAndGlyphs">CONTROL</text>
<text x="433.4" y="18.4" font-size="17" font-weight="bold" stroke="none" textLength="46.7" lengthAdjust="spacingAndGlyphs">VALVE</text>
<text x="510.4" y="18.4" font-size="17" font-weight="bold" stroke="none" textLength="43.6" lengthAdjust="spacingAndGlyphs">Serial</text>
<text x="565.4" y="18.4" font-size="17" font-weight="bold" stroke="none" textLength="25.4" lengthAdjust="spacingAndGlyphs">No.</text>
<text x="602.4" y="18.4" font-size="17" font-weight="bold" stroke="none" textLength="41.3" lengthAdjust="spacingAndGlyphs">10001</text>
<text x="608" y="124.4" font-size="14" stroke-width="0.5">21</text>
<text x="582" y="138.6" font-size="14" stroke-width="0.5">22</text>
<text x="563" y="156.1" font-size="14" stroke-width="0.5">20</text>
<text x="721" y="197.7" font-size="14" stroke-width="0.5">21</text>
<text x="690" y="212.7" font-size="14" stroke-width="0.5">22</text>
<text x="304" y="383.7" font-size="14" stroke-width="0.5">17</text>
<text x="312.3" y="399.4" font-size="14" stroke-width="0.5">16</text>
<text x="304" y="413.6" font-size="14" stroke-width="0.5">15</text>
<text x="288.1" y="424.3" font-size="14" stroke-width="0.5">14</text>
<text x="270.6" y="437.3" font-size="14" stroke-width="0.5">13</text>
<text x="254.9" y="452.2" font-size="14" stroke-width="0.5">14</text>
<text x="232.5" y="469.7" font-size="14" stroke-width="0.5">12</text>
<text x="347.7" y="479.7" font-size="14" stroke-width="0.5">23</text>
<text x="343.4" y="494.6" font-size="14" stroke-width="0.5">17</text>
<text x="339" y="509.1" font-size="14" stroke-width="0.5">16</text>
<text x="328" y="523.3" font-size="14" stroke-width="0.5">14</text>
<text x="310.3" y="532" font-size="14" stroke-width="0.5">13</text>
<text x="293.6" y="546.5" font-size="14" stroke-width="0.5">14</text>
<text x="382.1" y="559.5" font-size="14" stroke-width="0.5">15</text>
<text x="267.9" y="568.2" font-size="14" stroke-width="0.5">12</text>
<text x="206.6" y="490.4" font-size="14" stroke-width="0.5">4</text>
<text x="166.7" y="517.8" font-size="14" stroke-width="0.5">11</text>
<text x="149.8" y="527.8" font-size="14" stroke-width="0.5">10</text>
<text x="139.3" y="545.3" font-size="14" stroke-width="0.5">8</text>
<text x="114.4" y="562.7" font-size="14" stroke-width="0.5">9</text>
<text x="88.2" y="562.7" font-size="14" stroke-width="0.5">6</text>
<text x="139.3" y="650" font-size="14" stroke-width="0.5">7</text>
<text x="121.1" y="667.4" font-size="14" stroke-width="0.5">5</text>
<text x="252.8" y="694.3" font-size="14" stroke-width="0.5">11</text>
<text x="239.6" y="709.8" font-size="14" stroke-width="0.5">10</text>
<text x="228.8" y="722.7" font-size="14" stroke-width="0.5">8</text>
<text x="203.9" y="743.9" font-size="14" stroke-width="0.5">9</text>
<text x="174.7" y="768.3" font-size="14" stroke-width="0.5">7</text>
<text x="154.3" y="782.1" font-size="14" stroke-width="0.5">5</text>
<text x="96.2" y="737.2" font-size="14" stroke-width="0.5">6</text>
<text x="329.8" y="621.1" font-size="14" stroke-width="0.5">25</text>
<text x="293.1" y="664" font-size="14" stroke-width="0.5">4</text>
<text x="322.8" y="680.9" font-size="14" stroke-width="0.5">27</text>
<text x="318" y="714.4" font-size="14" stroke-width="0.5">26</text>
<text x="326.8" y="769.1" font-size="14" stroke-width="0.5">27</text>
<text x="322.4" y="798.9" font-size="14" stroke-width="0.5">26</text>
<text x="422.9" y="736.1" font-size="14" stroke-width="0.5">25</text>
<text x="529.5" y="543" font-size="14" stroke-width="0.5">2</text>
<text x="557.4" y="559" font-size="14" stroke-width="0.5">3</text>
<text x="580.6" y="573.4" font-size="14" stroke-width="0.5">24</text>
<text x="614.8" y="593.9" font-size="14" stroke-width="0.5">29</text>
<text x="662.1" y="487.9" font-size="14" stroke-width="0.5">28</text>
<text x="578.3" y="900.3" font-size="14" stroke-width="0.5">31</text>
<text x="318.4" y="272.3" font-size="14" stroke-width="0.5">28</text>
<text x="350.8" y="312.7" font-size="14" stroke-width="0.5">24</text>
<text x="638" y="436" font-size="14" stroke-width="0.5">1</text>
<text x="658" y="338.5" font-size="14" stroke-width="0.5">23</text>
<text x="535.3" y="167.4" font-size="14" stroke-width="0.5">19</text>
<text x="477.5" y="212.2" font-size="14" stroke-width="0.5">18</text>
<text x="641.5" y="257.6" font-size="14" stroke-width="0.5">19</text>
<text x="600.9" y="297.5" font-size="14" stroke-width="0.5">18</text>
<text x="664.6" y="233.2" font-size="14" stroke-width="0.5">20</text>
<text x="426.1" y="329.4" font-size="14" stroke-width="0.5">33</text>
<text x="384.9" y="334.9" font-size="14" stroke-width="0.5">3</text>
<text x="425.2" y="271.4" font-size="14" stroke-width="0.5">32</text>
<text x="216.1" y="355.8" font-size="14" stroke-width="0.5">30</text>
</g>
</svg>
</body></html>
